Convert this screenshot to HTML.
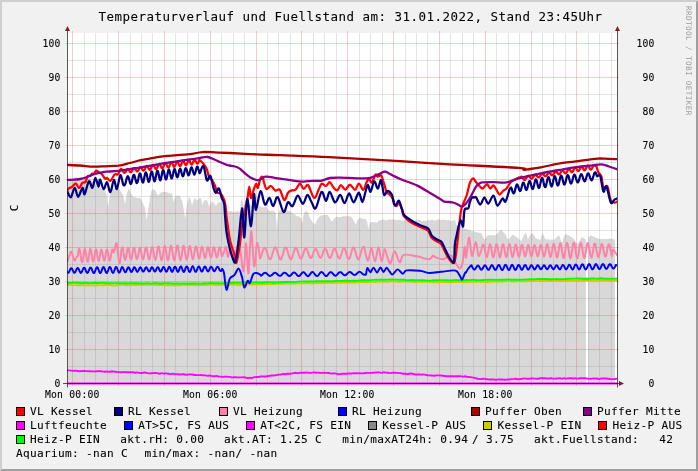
<!DOCTYPE html>
<html><head><meta charset="utf-8"><title>Temperaturverlauf und Fuellstand</title>
<style>html,body{margin:0;padding:0;background:#F1F1F1;overflow:hidden}body{width:698px;height:471px}</style></head>
<body>
<svg width="698" height="471" viewBox="0 0 698 471" style="display:block;will-change:transform;opacity:0.999">
<rect x="0" y="0" width="698" height="471" fill="#F1F1F1"/>
<path d="M0,0 H698 L696,2 H2 V469 L0,471 Z" fill="#CFCFCF"/>
<path d="M698,0 V471 H0 L2,469 H696 V2 Z" fill="#9E9E9E"/>
<rect x="67" y="33" width="550" height="350" fill="#FFFFFF"/>
<g clip-path="url(#cp)">
<path d="M68.0,383.0 L68.0,179.0 L72.0,178.5 L76.0,177.0 L78.0,179.0 L84.0,178.5 L90.0,179.0 L93.0,182.0 L97.0,186.0 L99.0,187.5 L101.0,188.5 L104.5,189.0 L106.8,196.0 L108.2,207.6 L109.6,196.0 L111.5,188.0 L113.7,188.8 L115.8,188.0 L118.0,187.5 L121.0,191.5 L123.5,196.0 L125.1,204.6 L126.6,194.0 L128.8,188.2 L131.0,193.0 L133.0,197.3 L135.3,197.2 L137.7,198.1 L140.0,197.7 L142.0,201.0 L145.0,208.0 L146.7,220.2 L148.6,207.0 L151.0,192.0 L152.6,189.0 L155.0,190.0 L158.0,195.5 L161.0,192.5 L163.0,192.0 L165.2,192.0 L167.5,192.2 L169.8,193.5 L172.0,193.2 L173.4,202.3 L175.0,197.0 L177.0,195.6 L180.0,196.0 L182.5,202.3 L185.3,218.7 L187.0,204.0 L189.0,197.1 L190.5,199.0 L192.0,205.3 L194.0,199.5 L195.0,197.9 L197.0,200.6 L199.0,198.4 L201.0,197.9 L202.5,205.3 L204.0,200.5 L207.0,200.1 L209.2,206.8 L211.0,202.5 L212.9,201.6 L215.9,206.1 L218.0,202.5 L220.2,201.9 L222.5,202.3 L224.0,206.0 L225.5,211.3 L227.5,210.9 L229.5,211.2 L231.5,211.5 L233.5,212.1 L235.5,211.8 L237.5,211.3 L239.7,212.0 L240.6,204.0 L241.6,197.9 L243.4,205.3 L246.0,203.0 L248.0,204.3 L250.0,204.5 L252.0,207.4 L254.0,206.3 L256.0,206.0 L258.0,206.2 L260.0,206.3 L262.0,207.2 L264.0,207.5 L266.0,206.8 L268.0,209.5 L270.0,211.2 L272.0,210.3 L274.0,211.5 L275.8,213.0 L276.9,229.2 L278.0,213.0 L280.0,210.0 L282.0,211.1 L284.0,211.4 L286.0,210.1 L288.0,211.4 L290.0,210.8 L293.0,214.0 L295.0,214.3 L297.0,216.4 L299.0,216.0 L301.0,218.5 L302.2,223.2 L303.5,215.0 L305.0,211.5 L307.5,211.3 L309.5,217.0 L311.1,220.2 L313.0,222.5 L314.9,224.7 L317.0,220.0 L320.0,215.8 L322.5,215.2 L325.0,214.9 L327.5,215.0 L330.0,218.5 L332.0,221.7 L334.0,218.5 L336.5,216.5 L338.6,217.3 L340.6,216.9 L342.7,216.3 L344.8,216.2 L346.9,216.2 L348.9,216.3 L351.0,216.5 L353.5,220.0 L355.8,224.7 L357.5,220.0 L360.0,217.5 L362.7,219.2 L365.4,218.7 L367.3,222.0 L368.4,229.2 L369.6,223.0 L371.4,222.0 L374.4,222.2 L377.3,222.5 L379.0,220.5 L381.8,219.7 L383.8,219.5 L385.8,220.5 L387.9,219.8 L389.9,219.5 L391.9,219.6 L393.9,219.2 L396.0,220.0 L398.0,220.0 L400.0,219.5 L402.0,221.0 L404.0,220.0 L406.0,219.4 L408.0,220.6 L410.0,219.6 L412.0,220.9 L414.0,220.8 L416.0,220.3 L418.0,219.5 L420.0,219.9 L422.0,220.9 L424.0,220.5 L426.0,220.7 L428.0,219.8 L430.0,220.5 L432.0,219.6 L434.0,220.6 L436.0,220.2 L438.0,219.2 L440.0,219.7 L442.1,220.0 L444.3,219.6 L446.4,220.3 L448.6,220.1 L450.7,221.1 L452.9,220.7 L455.0,220.2 L456.5,224.8 L459.0,226.0 L462.3,227.8 L466.0,229.0 L469.8,230.0 L474.0,231.5 L478.0,232.5 L481.5,233.3 L483.0,237.0 L484.7,239.7 L486.5,236.5 L488.0,235.2 L495.0,235.3 L498.0,233.0 L501.1,229.3 L503.5,232.5 L505.5,234.5 L507.0,238.0 L508.5,239.7 L510.5,237.0 L513.0,234.5 L515.0,236.0 L517.5,237.5 L519.5,239.5 L521.2,241.2 L523.5,236.0 L525.7,232.2 L527.0,236.0 L528.0,239.7 L529.5,236.0 L530.9,233.7 L533.0,233.5 L535.5,238.0 L538.0,239.2 L540.4,239.7 L541.6,235.5 L542.7,232.2 L544.0,236.5 L545.5,239.2 L549.4,239.5 L553.8,239.7 L556.5,237.5 L559.0,235.2 L560.5,239.0 L562.0,242.7 L563.5,238.0 L565.0,234.0 L567.5,235.0 L569.5,236.0 L573.2,238.2 L575.5,241.5 L577.7,244.2 L580.0,240.0 L582.1,236.7 L584.0,238.5 L585.9,239.7 L585.9,383.0 Z" fill="#D8D8D8"/>
<path d="M588.1,383.0 L588.1,238.5 L589.5,236.5 L591.1,235.2 L593.0,236.5 L595.6,237.5 L597.5,238.5 L600.0,238.9 L606.0,239.0 L610.0,238.6 L613.4,239.2 L615.0,239.5 L615.0,383.0 Z" fill="#D8D8D8"/>
</g>
<defs><clipPath id="cp"><rect x="67" y="33" width="550" height="350"/></clipPath></defs>
<path d="M84.5,33 V383 M95.5,33 V383 M107.5,33 V383 M130.5,33 V383 M141.5,33 V383 M152.5,33 V383 M175.5,33 V383 M187.5,33 V383 M198.5,33 V383 M221.5,33 V383 M233.5,33 V383 M244.5,33 V383 M267.5,33 V383 M278.5,33 V383 M290.5,33 V383 M313.5,33 V383 M324.5,33 V383 M336.5,33 V383 M359.5,33 V383 M370.5,33 V383 M382.5,33 V383 M405.5,33 V383 M416.5,33 V383 M427.5,33 V383 M450.5,33 V383 M462.5,33 V383 M473.5,33 V383 M496.5,33 V383 M508.5,33 V383 M519.5,33 V383 M542.5,33 V383 M553.5,33 V383 M565.5,33 V383 M588.5,33 V383 M599.5,33 V383 M611.5,33 V383 M67,366.5 H617 M67,332.5 H617 M67,298.5 H617 M67,264.5 H617 M67,230.5 H617 M67,196.5 H617 M67,162.5 H617 M67,128.5 H617 M67,94.5 H617 M67,60.5 H617" stroke="#8F8F8F" stroke-opacity="0.24" stroke-width="1" fill="none"/>
<path d="M72.5,31 V386 M118.5,31 V386 M164.5,31 V386 M210.5,31 V386 M256.5,31 V386 M301.5,31 V386 M347.5,31 V386 M393.5,31 V386 M439.5,31 V386 M485.5,31 V386 M531.5,31 V386 M576.5,31 V386 M65,383.5 H619 M65,349.5 H619 M65,315.5 H619 M65,281.5 H619 M65,247.5 H619 M65,213.5 H619 M65,179.5 H619 M65,145.5 H619 M65,111.5 H619 M65,77.5 H619 M65,43.5 H619" stroke="#DE4F4F" stroke-opacity="0.29" stroke-width="1" fill="none"/>
<g clip-path="url(#cp)" fill="none" stroke-linejoin="round" stroke-linecap="round">
<path d="M67.0,284.8 C67.7,284.8 69.7,285.0 71.0,285.1 C72.3,285.1 73.7,285.1 75.0,285.1 C76.3,285.1 77.7,285.2 79.0,285.3 C80.3,285.3 81.7,285.2 83.0,285.2 C84.3,285.2 85.7,285.3 87.0,285.3 C88.3,285.3 89.7,285.1 91.0,285.2 C92.3,285.2 93.7,285.5 95.0,285.5 C96.3,285.5 97.7,285.2 99.0,285.1 C100.3,285.1 101.7,285.2 103.0,285.2 C104.3,285.1 105.7,284.9 107.0,284.9 C108.3,284.9 109.7,285.1 111.0,285.2 C112.3,285.3 113.7,285.5 115.0,285.5 C116.3,285.4 117.7,285.1 119.0,285.0 C120.3,284.9 121.7,284.7 123.0,284.7 C124.3,284.8 125.7,285.2 127.0,285.3 C128.3,285.3 129.7,285.1 131.0,285.1 C132.3,285.0 133.7,284.9 135.0,284.9 C136.3,284.9 137.7,284.9 139.0,284.9 C140.3,284.9 141.7,285.0 143.0,284.9 C144.3,284.9 145.7,284.7 147.0,284.7 C148.3,284.6 149.7,284.6 151.0,284.6 C152.3,284.7 153.7,285.0 155.0,285.1 C156.3,285.2 157.7,285.0 159.0,285.0 C160.3,285.0 161.7,285.0 163.0,285.0 C164.3,285.1 165.7,285.2 167.0,285.2 C168.3,285.3 169.7,285.2 171.0,285.2 C172.3,285.2 173.7,285.2 175.0,285.2 C176.3,285.3 177.7,285.4 179.0,285.3 C180.3,285.3 181.7,284.9 183.0,284.9 C184.3,284.8 185.7,285.0 187.0,285.0 C188.3,285.0 189.7,284.9 191.0,284.9 C192.3,284.9 193.7,284.9 195.0,284.9 C196.3,284.9 197.7,284.9 199.0,284.9 C200.3,285.0 201.7,285.0 203.0,285.0 C204.3,285.0 205.7,285.0 207.0,285.0 C208.3,284.9 209.7,284.6 211.0,284.6 C212.3,284.6 213.7,285.0 215.0,285.1 C216.3,285.1 217.7,285.0 219.0,284.9 C220.3,284.8 221.7,284.6 223.0,284.6 C224.3,284.6 225.7,284.9 227.0,284.9 C228.3,284.9 229.7,284.9 231.0,284.8 C232.3,284.8 233.7,284.6 235.0,284.6 C236.3,284.6 237.7,284.9 239.0,284.9 C240.3,284.9 241.7,284.5 243.0,284.5 C244.3,284.4 245.7,284.5 247.0,284.5 C248.3,284.5 249.7,284.5 251.0,284.5 C252.3,284.5 253.7,284.4 255.0,284.3 C256.3,284.3 257.7,284.2 259.0,284.2 C260.3,284.2 261.7,284.2 263.0,284.2 C264.3,284.2 265.7,284.0 267.0,284.0 C268.3,284.0 269.7,284.3 271.0,284.3 C272.3,284.2 273.7,283.9 275.0,283.8 C276.3,283.7 277.7,283.8 279.0,283.8 C280.3,283.8 281.7,283.8 283.0,283.7 C284.3,283.7 285.7,283.7 287.0,283.6 C288.3,283.5 289.7,283.4 291.0,283.4 C292.3,283.4 293.7,283.7 295.0,283.7 C296.3,283.7 297.7,283.4 299.0,283.4 C300.3,283.3 301.7,283.5 303.0,283.4 C304.3,283.3 305.7,282.9 307.0,282.9 C308.3,282.9 309.7,283.3 311.0,283.4 C312.3,283.4 313.7,283.2 315.0,283.1 C316.3,283.1 317.7,283.0 319.0,283.0 C320.3,283.0 321.7,283.0 323.0,283.0 C324.3,283.0 325.7,282.8 327.0,282.8 C328.3,282.7 329.7,282.7 331.0,282.7 C332.3,282.7 333.7,282.8 335.0,282.8 C336.3,282.8 337.7,282.7 339.0,282.7 C340.3,282.6 341.7,282.5 343.0,282.5 C344.3,282.4 345.7,282.4 347.0,282.4 C348.3,282.4 349.7,282.5 351.0,282.5 C352.3,282.5 353.7,282.5 355.0,282.4 C356.3,282.4 357.7,282.3 359.0,282.3 C360.3,282.2 361.7,281.9 363.0,281.9 C364.3,281.9 365.7,282.2 367.0,282.2 C368.3,282.1 369.7,281.8 371.0,281.8 C372.3,281.8 373.7,282.0 375.0,281.9 C376.3,281.9 377.7,281.6 379.0,281.6 C380.3,281.6 381.7,281.7 383.0,281.7 C384.3,281.8 385.7,281.8 387.0,281.7 C388.3,281.7 389.7,281.4 391.0,281.3 C392.3,281.2 393.7,281.3 395.0,281.4 C396.3,281.5 397.7,281.8 399.0,281.8 C400.3,281.8 401.7,281.7 403.0,281.6 C404.3,281.6 405.7,281.5 407.0,281.5 C408.3,281.5 409.7,281.5 411.0,281.5 C412.3,281.6 413.7,281.9 415.0,281.9 C416.3,281.9 417.7,281.7 419.0,281.7 C420.3,281.7 421.7,281.8 423.0,281.8 C424.3,281.8 425.7,281.7 427.0,281.8 C428.3,281.8 429.7,282.0 431.0,282.0 C432.3,282.1 433.7,282.2 435.0,282.2 C436.3,282.3 437.7,282.3 439.0,282.2 C440.3,282.2 441.7,282.0 443.0,282.0 C444.3,281.9 445.7,282.1 447.0,282.2 C448.3,282.2 449.7,282.2 451.0,282.2 C452.3,282.1 453.7,281.9 455.0,281.9 C456.3,281.9 457.7,282.0 459.0,282.1 C460.3,282.1 461.7,282.1 463.0,282.0 C464.3,282.0 465.7,281.9 467.0,281.9 C468.3,281.8 469.7,281.9 471.0,281.9 C472.3,281.8 473.7,281.8 475.0,281.8 C476.3,281.7 477.7,281.7 479.0,281.7 C480.3,281.7 481.7,281.7 483.0,281.7 C484.3,281.7 485.7,281.9 487.0,281.9 C488.3,281.9 489.7,281.6 491.0,281.5 C492.3,281.5 493.7,281.5 495.0,281.5 C496.3,281.5 497.7,281.6 499.0,281.5 C500.3,281.5 501.7,281.5 503.0,281.4 C504.3,281.4 505.7,281.1 507.0,281.1 C508.3,281.0 509.7,281.2 511.0,281.2 C512.3,281.3 513.7,281.4 515.0,281.4 C516.3,281.4 517.7,281.1 519.0,281.1 C520.3,281.1 521.7,281.3 523.0,281.3 C524.3,281.3 525.7,281.3 527.0,281.2 C528.3,281.1 529.7,280.9 531.0,280.8 C532.3,280.8 533.7,281.0 535.0,281.1 C536.3,281.1 537.7,281.1 539.0,281.1 C540.3,281.0 541.7,281.1 543.0,281.0 C544.3,280.9 545.7,280.5 547.0,280.5 C548.3,280.5 549.7,280.8 551.0,280.8 C552.3,280.8 553.7,280.7 555.0,280.7 C556.3,280.7 557.7,280.9 559.0,280.8 C560.3,280.7 561.7,280.3 563.0,280.2 C564.3,280.2 565.7,280.5 567.0,280.5 C568.3,280.6 569.7,280.3 571.0,280.3 C572.3,280.3 573.7,280.6 575.0,280.6 C576.3,280.6 577.7,280.4 579.0,280.3 C580.3,280.2 581.7,280.2 583.0,280.2 C584.3,280.2 585.7,280.2 587.0,280.2 C588.3,280.2 589.7,280.2 591.0,280.2 C592.3,280.3 593.7,280.5 595.0,280.5 C596.3,280.5 597.7,280.3 599.0,280.2 C600.3,280.1 601.7,280.0 603.0,280.1 C604.3,280.1 605.7,280.4 607.0,280.5 C608.3,280.5 609.7,280.4 611.0,280.4 C612.3,280.3 614.0,280.2 615.0,280.2 C616.0,280.2 616.7,280.4 617.0,280.4" stroke="#CCCC00" stroke-width="1.95"/>
<path d="M67.0,283.2 C67.5,283.1 69.0,283.0 70.0,282.9 C71.0,282.8 72.0,282.9 73.0,282.8 C74.0,282.8 75.0,282.8 76.0,282.8 C77.0,282.9 78.0,282.9 79.0,282.9 C80.0,283.0 81.0,283.2 82.0,283.2 C83.0,283.2 84.0,282.9 85.0,282.9 C86.0,282.9 87.0,283.1 88.0,283.1 C89.0,283.1 90.0,283.2 91.0,283.1 C92.0,283.1 93.0,283.0 94.0,283.0 C95.0,283.0 96.0,283.1 97.0,283.1 C98.0,283.1 99.0,282.9 100.0,282.9 C101.0,282.8 102.0,282.9 103.0,282.9 C104.0,282.9 105.0,282.9 106.0,283.0 C107.0,283.0 108.0,283.2 109.0,283.2 C110.0,283.3 111.0,283.1 112.0,283.1 C113.0,283.1 114.0,283.1 115.0,283.1 C116.0,283.1 117.0,283.2 118.0,283.2 C119.0,283.2 120.0,283.2 121.0,283.2 C122.0,283.2 123.0,283.1 124.0,283.1 C125.0,283.1 126.0,283.3 127.0,283.4 C128.0,283.4 129.0,283.4 130.0,283.3 C131.0,283.3 132.0,283.1 133.0,283.1 C134.0,283.1 135.0,283.3 136.0,283.3 C137.0,283.3 138.0,283.3 139.0,283.3 C140.0,283.3 141.0,283.5 142.0,283.5 C143.0,283.5 144.0,283.5 145.0,283.4 C146.0,283.4 147.0,283.2 148.0,283.2 C149.0,283.2 150.0,283.6 151.0,283.6 C152.0,283.6 153.0,283.2 154.0,283.1 C155.0,283.1 156.0,283.3 157.0,283.3 C158.0,283.4 159.0,283.5 160.0,283.5 C161.0,283.5 162.0,283.2 163.0,283.2 C164.0,283.2 165.0,283.4 166.0,283.4 C167.0,283.4 168.0,283.2 169.0,283.2 C170.0,283.2 171.0,283.4 172.0,283.5 C173.0,283.6 174.0,283.6 175.0,283.6 C176.0,283.6 177.0,283.5 178.0,283.5 C179.0,283.5 180.0,283.7 181.0,283.6 C182.0,283.6 183.0,283.4 184.0,283.4 C185.0,283.4 186.0,283.6 187.0,283.6 C188.0,283.6 189.0,283.6 190.0,283.5 C191.0,283.5 192.0,283.5 193.0,283.5 C194.0,283.5 195.0,283.4 196.0,283.4 C197.0,283.4 198.0,283.5 199.0,283.6 C200.0,283.6 201.0,283.6 202.0,283.6 C203.0,283.5 204.0,283.3 205.0,283.3 C206.0,283.3 207.0,283.4 208.0,283.4 C209.0,283.3 210.0,283.0 211.0,283.0 C212.0,283.0 213.0,283.3 214.0,283.3 C215.0,283.3 216.0,283.2 217.0,283.2 C218.0,283.2 219.0,283.4 220.0,283.4 C221.0,283.4 222.0,283.3 223.0,283.2 C224.0,283.2 225.0,283.0 226.0,282.9 C227.0,282.9 228.0,282.9 229.0,282.9 C230.0,283.0 231.0,283.1 232.0,283.0 C233.0,283.0 234.0,282.7 235.0,282.7 C236.0,282.7 237.0,282.9 238.0,282.9 C239.0,282.9 240.0,282.7 241.0,282.7 C242.0,282.6 243.0,282.6 244.0,282.6 C245.0,282.6 246.0,282.5 247.0,282.5 C248.0,282.6 249.0,282.9 250.0,282.9 C251.0,282.9 252.0,282.6 253.0,282.5 C254.0,282.4 255.0,282.5 256.0,282.5 C257.0,282.5 258.0,282.5 259.0,282.6 C260.0,282.6 261.0,282.8 262.0,282.7 C263.0,282.7 264.0,282.3 265.0,282.3 C266.0,282.2 267.0,282.4 268.0,282.4 C269.0,282.4 270.0,282.4 271.0,282.4 C272.0,282.4 273.0,282.5 274.0,282.5 C275.0,282.5 276.0,282.4 277.0,282.4 C278.0,282.4 279.0,282.4 280.0,282.4 C281.0,282.3 282.0,282.1 283.0,282.0 C284.0,281.9 285.0,282.0 286.0,282.0 C287.0,282.0 288.0,281.9 289.0,281.9 C290.0,281.9 291.0,282.1 292.0,282.1 C293.0,282.1 294.0,282.2 295.0,282.1 C296.0,282.0 297.0,281.7 298.0,281.6 C299.0,281.5 300.0,281.6 301.0,281.6 C302.0,281.5 303.0,281.5 304.0,281.5 C305.0,281.5 306.0,281.5 307.0,281.5 C308.0,281.5 309.0,281.5 310.0,281.5 C311.0,281.5 312.0,281.5 313.0,281.5 C314.0,281.5 315.0,281.4 316.0,281.3 C317.0,281.2 318.0,281.1 319.0,281.1 C320.0,281.1 321.0,281.2 322.0,281.2 C323.0,281.2 324.0,281.2 325.0,281.1 C326.0,281.1 327.0,281.1 328.0,281.2 C329.0,281.2 330.0,281.3 331.0,281.3 C332.0,281.3 333.0,281.2 334.0,281.1 C335.0,281.0 336.0,281.0 337.0,280.9 C338.0,280.9 339.0,280.9 340.0,280.9 C341.0,280.9 342.0,281.0 343.0,280.9 C344.0,280.8 345.0,280.5 346.0,280.5 C347.0,280.5 348.0,280.8 349.0,280.9 C350.0,280.9 351.0,280.8 352.0,280.7 C353.0,280.7 354.0,280.7 355.0,280.7 C356.0,280.7 357.0,280.7 358.0,280.6 C359.0,280.6 360.0,280.4 361.0,280.3 C362.0,280.3 363.0,280.3 364.0,280.3 C365.0,280.2 366.0,280.1 367.0,280.1 C368.0,280.1 369.0,280.3 370.0,280.3 C371.0,280.2 372.0,280.0 373.0,279.9 C374.0,279.8 375.0,279.9 376.0,279.8 C377.0,279.8 378.0,279.9 379.0,279.8 C380.0,279.8 381.0,279.8 382.0,279.8 C383.0,279.7 384.0,279.8 385.0,279.8 C386.0,279.7 387.0,279.6 388.0,279.6 C389.0,279.5 390.0,279.5 391.0,279.5 C392.0,279.5 393.0,279.6 394.0,279.6 C395.0,279.6 396.0,279.6 397.0,279.6 C398.0,279.7 399.0,279.8 400.0,279.8 C401.0,279.9 402.0,279.7 403.0,279.7 C404.0,279.8 405.0,280.2 406.0,280.2 C407.0,280.3 408.0,280.2 409.0,280.2 C410.0,280.1 411.0,280.0 412.0,280.0 C413.0,280.0 414.0,280.1 415.0,280.2 C416.0,280.2 417.0,280.2 418.0,280.3 C419.0,280.3 420.0,280.3 421.0,280.3 C422.0,280.3 423.0,280.2 424.0,280.2 C425.0,280.2 426.0,280.5 427.0,280.6 C428.0,280.6 429.0,280.6 430.0,280.6 C431.0,280.6 432.0,280.4 433.0,280.3 C434.0,280.3 435.0,280.4 436.0,280.3 C437.0,280.3 438.0,280.2 439.0,280.1 C440.0,280.1 441.0,280.1 442.0,280.1 C443.0,280.1 444.0,280.2 445.0,280.2 C446.0,280.2 447.0,280.2 448.0,280.2 C449.0,280.2 450.0,280.5 451.0,280.5 C452.0,280.4 453.0,280.2 454.0,280.1 C455.0,280.0 456.0,279.9 457.0,280.0 C458.0,280.0 459.0,280.4 460.0,280.4 C461.0,280.5 462.0,280.3 463.0,280.2 C464.0,280.1 465.0,280.0 466.0,280.0 C467.0,279.9 468.0,280.1 469.0,280.1 C470.0,280.1 471.0,279.8 472.0,279.8 C473.0,279.8 474.0,280.0 475.0,280.0 C476.0,280.1 477.0,280.2 478.0,280.2 C479.0,280.2 480.0,280.2 481.0,280.1 C482.0,280.1 483.0,280.1 484.0,280.0 C485.0,280.0 486.0,279.8 487.0,279.8 C488.0,279.7 489.0,279.8 490.0,279.8 C491.0,279.8 492.0,279.6 493.0,279.6 C494.0,279.7 495.0,279.9 496.0,279.9 C497.0,279.9 498.0,279.8 499.0,279.8 C500.0,279.8 501.0,279.9 502.0,279.8 C503.0,279.8 504.0,279.6 505.0,279.6 C506.0,279.5 507.0,279.5 508.0,279.5 C509.0,279.5 510.0,279.7 511.0,279.8 C512.0,279.8 513.0,279.8 514.0,279.8 C515.0,279.8 516.0,279.7 517.0,279.7 C518.0,279.7 519.0,279.7 520.0,279.7 C521.0,279.6 522.0,279.6 523.0,279.6 C524.0,279.6 525.0,279.6 526.0,279.5 C527.0,279.5 528.0,279.3 529.0,279.2 C530.0,279.2 531.0,279.3 532.0,279.3 C533.0,279.3 534.0,279.3 535.0,279.2 C536.0,279.2 537.0,279.0 538.0,279.0 C539.0,279.0 540.0,279.0 541.0,279.0 C542.0,279.0 543.0,279.0 544.0,279.0 C545.0,279.1 546.0,279.0 547.0,279.0 C548.0,279.0 549.0,279.1 550.0,279.2 C551.0,279.2 552.0,279.3 553.0,279.3 C554.0,279.2 555.0,279.0 556.0,279.0 C557.0,278.9 558.0,279.1 559.0,279.2 C560.0,279.2 561.0,279.2 562.0,279.1 C563.0,279.1 564.0,279.2 565.0,279.1 C566.0,279.0 567.0,278.8 568.0,278.7 C569.0,278.7 570.0,278.7 571.0,278.6 C572.0,278.6 573.0,278.6 574.0,278.6 C575.0,278.6 576.0,278.6 577.0,278.5 C578.0,278.5 579.0,278.5 580.0,278.5 C581.0,278.5 582.0,278.6 583.0,278.7 C584.0,278.7 585.0,278.8 586.0,278.8 C587.0,278.8 588.0,278.7 589.0,278.7 C590.0,278.6 591.0,278.5 592.0,278.5 C593.0,278.5 594.0,278.6 595.0,278.6 C596.0,278.6 597.0,278.7 598.0,278.7 C599.0,278.6 600.0,278.3 601.0,278.3 C602.0,278.3 603.0,278.6 604.0,278.6 C605.0,278.7 606.0,278.8 607.0,278.8 C608.0,278.8 609.0,278.7 610.0,278.7 C611.0,278.7 612.0,278.7 613.0,278.7 C614.0,278.7 615.3,278.6 616.0,278.6 C616.7,278.6 616.8,278.6 617.0,278.6" stroke="#00FF00" stroke-width="1.9"/>
<path d="M67.5,261.3 C67.8,260.4 68.6,257.6 69.2,256.0 C69.8,254.4 70.6,251.5 71.2,251.5 C71.8,251.5 72.4,254.5 73.0,256.0 C73.6,257.5 74.1,260.3 74.6,260.6 C75.1,260.9 75.7,258.8 76.2,258.0 C76.7,257.2 77.4,256.8 77.8,255.6 C78.2,254.3 78.3,251.7 78.5,250.5 C78.7,249.3 79.0,248.4 79.2,248.4 C79.4,248.4 79.7,249.3 79.9,250.4 C80.1,251.6 80.4,253.7 80.6,255.4 C80.9,257.1 81.1,259.2 81.3,260.4 C81.6,261.6 81.8,262.5 82.0,262.5 C82.3,262.5 82.5,261.6 82.7,260.5 C83.0,259.4 83.2,257.2 83.4,255.6 C83.7,254.0 83.9,251.9 84.1,250.7 C84.4,249.6 84.6,248.7 84.8,248.7 C85.1,248.7 85.3,249.6 85.5,250.7 C85.8,251.8 86.0,253.9 86.2,255.5 C86.5,257.0 86.7,259.1 87.0,260.1 C87.2,261.2 87.4,262.0 87.7,262.0 C87.9,261.9 88.1,261.0 88.4,259.9 C88.6,258.8 88.8,256.7 89.1,255.2 C89.3,253.6 89.5,251.7 89.8,250.7 C90.0,249.6 90.2,248.9 90.5,249.0 C90.7,249.1 90.9,250.1 91.2,251.2 C91.4,252.4 91.6,254.4 91.9,255.9 C92.1,257.4 92.3,259.2 92.6,260.1 C92.8,261.1 93.1,261.6 93.3,261.4 C93.5,261.3 93.8,260.2 94.0,259.1 C94.2,257.9 94.5,255.9 94.7,254.4 C94.9,253.0 95.2,251.3 95.4,250.4 C95.6,249.6 95.9,249.1 96.1,249.4 C96.3,249.7 96.6,250.8 96.8,252.0 C97.0,253.1 97.3,255.1 97.5,256.5 C97.7,257.9 98.0,259.5 98.2,260.2 C98.5,260.9 98.7,261.2 98.9,260.9 C99.2,260.5 99.4,259.3 99.6,258.1 C99.9,256.9 100.1,254.9 100.3,253.6 C100.6,252.3 100.8,250.8 101.0,250.1 C101.3,249.5 101.5,249.3 101.7,249.8 C102.0,250.2 102.2,251.5 102.4,252.7 C102.7,254.0 102.9,255.9 103.1,257.2 C103.4,258.4 103.6,259.8 103.8,260.3 C104.1,260.9 104.3,260.9 104.6,260.3 C104.8,259.8 105.0,258.4 105.3,257.2 C105.5,255.9 105.7,254.0 106.0,252.8 C106.2,251.5 106.4,250.2 106.7,249.8 C106.9,249.4 107.1,249.5 107.4,250.1 C107.6,250.7 107.8,252.2 108.1,253.4 C108.3,254.7 108.5,256.6 108.8,257.8 C109.0,259.0 109.2,260.1 109.5,260.5 C109.7,260.8 109.9,260.6 110.2,259.9 C110.4,259.2 110.7,257.6 110.9,256.3 C111.1,255.0 111.4,253.1 111.6,252.0 C111.8,250.8 112.1,249.7 112.3,249.4 C112.5,249.2 112.7,249.9 113.0,250.3 C113.3,250.7 113.4,253.2 114.0,252.0 C114.6,250.8 115.8,242.9 116.5,243.2 C117.2,243.5 117.5,250.7 118.0,254.0 C118.5,257.4 119.0,263.1 119.5,263.3 C120.0,263.5 120.8,256.8 121.0,255.0 C121.2,253.2 120.9,253.6 121.0,252.5 C121.1,251.4 121.5,249.3 121.7,248.5 C121.9,247.6 122.2,247.2 122.4,247.4 C122.6,247.7 122.9,248.7 123.1,249.9 C123.3,251.1 123.6,253.0 123.8,254.5 C124.0,255.9 124.3,257.6 124.5,258.5 C124.7,259.5 125.0,260.0 125.2,260.0 C125.4,259.9 125.7,259.0 125.9,258.0 C126.1,256.9 126.4,255.1 126.6,253.7 C126.8,252.3 127.1,250.5 127.3,249.5 C127.5,248.5 127.8,247.7 128.0,247.6 C128.2,247.6 128.5,248.2 128.7,249.0 C128.9,249.9 129.2,251.5 129.4,252.9 C129.7,254.2 129.9,256.0 130.1,257.1 C130.4,258.2 130.6,259.2 130.8,259.5 C131.1,259.7 131.3,259.4 131.5,258.7 C131.8,258.0 132.0,256.6 132.2,255.3 C132.5,254.0 132.7,252.2 132.9,251.0 C133.2,249.8 133.4,248.6 133.6,248.2 C133.9,247.7 134.1,247.7 134.3,248.2 C134.6,248.6 134.8,249.8 135.0,251.0 C135.3,252.2 135.5,253.9 135.7,255.2 C136.0,256.4 136.2,257.8 136.4,258.5 C136.7,259.2 136.9,259.5 137.1,259.3 C137.4,259.0 137.6,258.1 137.8,257.1 C138.1,256.1 138.3,254.4 138.5,253.1 C138.8,251.8 139.0,250.2 139.2,249.3 C139.5,248.4 139.7,247.7 139.9,247.7 C140.2,247.6 140.4,248.2 140.6,249.0 C140.9,249.8 141.1,251.3 141.3,252.6 C141.6,253.9 141.8,255.6 142.0,256.7 C142.3,257.8 142.5,258.8 142.7,259.2 C143.0,259.5 143.2,259.4 143.4,258.8 C143.7,258.2 143.9,256.9 144.1,255.7 C144.4,254.5 144.6,252.7 144.8,251.5 C145.1,250.2 145.3,248.9 145.5,248.2 C145.8,247.5 146.0,247.2 146.2,247.5 C146.5,247.7 146.7,248.6 147.0,249.7 C147.2,250.8 147.4,252.4 147.7,253.8 C147.9,255.1 148.1,256.8 148.4,257.7 C148.6,258.7 148.8,259.4 149.1,259.6 C149.3,259.7 149.5,259.2 149.8,258.4 C150.0,257.6 150.2,256.1 150.5,254.7 C150.7,253.4 150.9,251.6 151.2,250.3 C151.4,249.1 151.6,247.9 151.9,247.4 C152.1,246.9 152.3,246.8 152.6,247.3 C152.8,247.7 153.0,248.9 153.3,250.1 C153.5,251.3 153.7,253.1 154.0,254.5 C154.2,255.9 154.4,257.5 154.7,258.4 C154.9,259.3 155.1,259.9 155.4,259.9 C155.6,259.8 155.8,259.1 156.1,258.2 C156.3,257.2 156.5,255.5 156.8,254.1 C157.0,252.6 157.2,250.8 157.5,249.5 C157.7,248.3 157.9,247.1 158.2,246.7 C158.4,246.3 158.6,246.4 158.9,247.0 C159.1,247.6 159.3,248.9 159.6,250.2 C159.8,251.6 160.0,253.5 160.3,254.9 C160.5,256.4 160.7,258.0 161.0,258.9 C161.2,259.7 161.4,260.3 161.7,260.2 C161.9,260.0 162.1,259.2 162.4,258.1 C162.6,257.1 162.8,255.2 163.1,253.7 C163.3,252.2 163.6,250.3 163.8,249.0 C164.0,247.8 164.3,246.6 164.5,246.2 C164.7,245.8 165.0,246.0 165.2,246.6 C165.4,247.3 165.7,248.7 165.9,250.1 C166.1,251.5 166.4,253.6 166.6,255.1 C166.8,256.6 167.1,258.2 167.3,259.1 C167.5,260.0 167.8,260.5 168.0,260.3 C168.2,260.2 168.5,259.3 168.7,258.2 C168.9,257.0 169.2,255.1 169.4,253.6 C169.6,252.0 169.9,250.0 170.1,248.7 C170.3,247.4 170.6,246.2 170.8,245.9 C171.0,245.5 171.3,245.7 171.5,246.4 C171.7,247.1 172.0,248.6 172.2,250.0 C172.4,251.5 172.7,253.5 172.9,255.1 C173.1,256.6 173.4,258.3 173.6,259.1 C173.8,260.0 174.1,260.5 174.3,260.3 C174.5,260.2 174.8,259.2 175.0,258.1 C175.2,256.9 175.5,255.0 175.7,253.4 C175.9,251.8 176.2,249.8 176.4,248.5 C176.6,247.2 176.9,246.1 177.1,245.7 C177.3,245.4 177.6,245.6 177.8,246.3 C178.0,247.0 178.3,248.6 178.5,250.0 C178.7,251.5 179.0,253.6 179.2,255.1 C179.4,256.6 179.7,258.2 179.9,259.1 C180.2,259.9 180.4,260.3 180.6,260.1 C180.9,259.9 181.1,258.9 181.3,257.7 C181.6,256.6 181.8,254.6 182.0,253.1 C182.3,251.5 182.5,249.5 182.7,248.3 C183.0,247.1 183.2,246.1 183.4,245.8 C183.7,245.5 183.9,245.8 184.1,246.6 C184.4,247.3 184.6,248.9 184.8,250.4 C185.1,251.8 185.3,253.8 185.5,255.3 C185.8,256.7 186.0,258.2 186.2,258.9 C186.5,259.7 186.7,259.9 186.9,259.6 C187.2,259.3 187.4,258.2 187.6,257.0 C187.9,255.8 188.1,253.9 188.3,252.4 C188.6,250.9 188.8,249.1 189.0,248.0 C189.3,246.9 189.5,246.1 189.7,246.0 C190.0,245.8 190.2,246.3 190.4,247.2 C190.7,248.1 190.9,249.7 191.1,251.1 C191.4,252.5 191.6,254.4 191.8,255.7 C192.1,257.0 192.3,258.3 192.5,258.8 C192.8,259.3 193.0,259.3 193.2,258.8 C193.5,258.3 193.7,257.1 193.9,255.9 C194.2,254.6 194.4,252.7 194.6,251.4 C194.9,250.0 195.1,248.4 195.3,247.6 C195.6,246.7 195.8,246.2 196.0,246.3 C196.3,246.4 196.5,247.2 196.8,248.2 C197.0,249.2 197.2,250.9 197.5,252.3 C197.7,253.6 197.9,255.4 198.2,256.4 C198.4,257.5 198.6,258.4 198.9,258.6 C199.1,258.8 199.3,258.4 199.6,257.7 C199.8,257.0 200.0,255.5 200.3,254.2 C200.5,253.0 200.7,251.2 201.0,250.0 C201.2,248.8 201.4,247.6 201.7,247.1 C201.9,246.6 202.1,246.6 202.4,247.0 C202.6,247.5 202.8,248.6 203.1,249.7 C203.3,250.9 203.5,252.6 203.8,253.8 C204.0,255.1 204.2,256.5 204.5,257.2 C204.7,257.9 204.9,258.2 205.2,258.0 C205.4,257.8 205.6,257.0 205.9,256.0 C206.1,255.0 206.3,253.4 206.6,252.2 C206.8,250.9 207.0,249.4 207.3,248.6 C207.5,247.7 207.7,247.0 208.0,247.0 C208.2,247.0 208.4,247.5 208.7,248.3 C208.9,249.1 209.1,250.6 209.4,251.8 C209.6,253.0 209.8,254.6 210.1,255.5 C210.3,256.5 210.5,257.4 210.8,257.6 C211.0,257.8 211.2,257.5 211.5,256.9 C211.7,256.2 211.9,254.9 212.2,253.7 C212.4,252.6 212.6,250.9 212.9,249.9 C213.1,248.8 213.3,247.8 213.6,247.4 C213.8,247.0 214.1,247.1 214.3,247.6 C214.5,248.1 214.8,249.3 215.0,250.4 C215.2,251.5 215.5,253.1 215.7,254.2 C215.9,255.3 216.2,256.5 216.4,256.9 C216.6,257.4 216.9,257.5 217.1,257.2 C217.3,256.8 217.6,255.7 217.8,254.7 C218.0,253.6 218.3,252.0 218.5,250.9 C218.7,249.7 219.0,248.4 219.2,247.8 C219.4,247.2 219.7,247.0 219.9,247.2 C220.1,247.5 220.4,248.5 220.6,249.4 C220.8,250.4 221.1,252.1 221.3,253.2 C221.5,254.4 221.5,256.7 222.0,256.4 C222.5,256.2 223.3,253.6 224.0,252.0 C224.7,250.4 225.3,246.2 226.0,247.0 C226.7,247.8 227.2,257.0 228.0,257.0 C228.8,257.0 229.7,246.8 230.5,247.0 C231.3,247.2 232.1,257.8 233.0,258.5 C233.9,259.2 234.9,253.2 236.0,251.0 C237.1,248.8 238.2,241.8 239.4,245.2 C240.7,248.6 242.4,271.7 243.5,271.4 C244.6,271.1 245.3,242.9 246.1,243.2 C246.9,243.5 247.7,275.4 248.5,273.4 C249.3,271.4 250.2,232.2 251.1,231.0 C252.0,229.8 253.2,264.4 254.2,266.4 C255.2,268.4 256.1,245.0 257.0,243.2 C257.9,241.3 259.1,252.8 259.6,255.3 C260.1,257.8 259.8,258.1 260.0,258.4 C260.2,258.7 260.5,257.7 260.7,257.2 C260.9,256.7 261.2,256.0 261.4,255.4 C261.6,254.7 261.9,253.9 262.1,253.1 C262.3,252.4 262.6,251.6 262.8,250.9 C263.0,250.3 263.3,249.6 263.5,249.1 C263.7,248.6 264.0,248.2 264.2,248.0 C264.4,247.8 264.7,247.7 264.9,247.8 C265.1,247.9 265.4,248.2 265.6,248.6 C265.8,249.0 266.1,249.5 266.3,250.2 C266.5,250.8 266.8,251.6 267.0,252.3 C267.2,253.1 267.5,253.9 267.7,254.7 C267.9,255.5 268.2,256.3 268.4,256.9 C268.6,257.5 268.9,258.1 269.1,258.5 C269.3,258.9 269.6,259.2 269.8,259.3 C270.0,259.3 270.3,259.2 270.5,259.0 C270.7,258.8 271.0,258.3 271.2,257.8 C271.4,257.3 271.7,256.5 271.9,255.8 C272.1,255.1 272.4,254.2 272.6,253.4 C272.8,252.6 273.1,251.7 273.3,251.0 C273.5,250.2 273.8,249.5 274.0,248.9 C274.2,248.4 274.5,247.9 274.7,247.7 C274.9,247.4 275.2,247.3 275.4,247.4 C275.6,247.5 275.9,247.7 276.1,248.1 C276.3,248.5 276.6,249.1 276.8,249.8 C277.0,250.5 277.3,251.3 277.5,252.1 C277.8,252.9 278.0,253.8 278.2,254.7 C278.5,255.5 278.7,256.3 278.9,257.0 C279.2,257.7 279.4,258.3 279.6,258.7 C279.9,259.1 280.1,259.4 280.3,259.5 C280.6,259.5 280.8,259.4 281.0,259.2 C281.3,258.9 281.5,258.4 281.7,257.9 C282.0,257.3 282.2,256.6 282.4,255.8 C282.7,255.0 282.9,254.1 283.1,253.3 C283.4,252.5 283.6,251.6 283.8,250.8 C284.1,250.1 284.3,249.3 284.5,248.8 C284.8,248.3 285.0,247.8 285.2,247.6 C285.5,247.4 285.7,247.3 285.9,247.5 C286.2,247.6 286.4,247.9 286.6,248.4 C286.9,248.8 287.1,249.5 287.3,250.2 C287.6,250.9 287.8,251.7 288.0,252.5 C288.3,253.4 288.5,254.3 288.7,255.1 C289.0,255.8 289.2,256.6 289.4,257.2 C289.7,257.9 289.9,258.4 290.1,258.7 C290.4,259.1 290.6,259.2 290.8,259.2 C291.1,259.2 291.3,259.0 291.5,258.7 C291.8,258.3 292.0,257.7 292.2,257.1 C292.5,256.5 292.7,255.7 292.9,254.9 C293.2,254.2 293.4,253.3 293.6,252.5 C293.9,251.7 294.1,250.9 294.3,250.2 C294.6,249.6 294.8,249.0 295.0,248.6 C295.3,248.2 295.5,247.9 295.7,247.9 C296.0,247.8 296.2,247.9 296.4,248.2 C296.7,248.4 296.9,248.9 297.1,249.5 C297.4,250.0 297.6,250.7 297.8,251.5 C298.1,252.2 298.3,253.0 298.5,253.8 C298.8,254.5 299.0,255.4 299.2,256.0 C299.5,256.7 299.7,257.3 299.9,257.7 C300.2,258.1 300.4,258.5 300.6,258.6 C300.9,258.7 301.1,258.6 301.3,258.4 C301.6,258.2 301.8,257.8 302.0,257.3 C302.3,256.9 302.5,256.2 302.7,255.5 C303.0,254.8 303.2,254.0 303.4,253.3 C303.7,252.6 303.9,251.8 304.1,251.1 C304.4,250.5 304.6,249.9 304.8,249.4 C305.1,249.0 305.3,248.7 305.5,248.5 C305.8,248.4 306.0,248.4 306.2,248.6 C306.5,248.8 306.7,249.2 306.9,249.6 C307.2,250.1 307.4,250.7 307.6,251.3 C307.9,252.0 308.1,252.8 308.3,253.5 C308.6,254.2 308.8,254.9 309.0,255.5 C309.3,256.2 309.5,256.8 309.7,257.2 C310.0,257.6 310.2,257.9 310.4,258.0 C310.7,258.2 310.9,258.1 311.1,258.0 C311.4,257.8 311.6,257.4 311.9,257.0 C312.1,256.5 312.3,255.9 312.6,255.3 C312.8,254.6 313.0,253.9 313.3,253.2 C313.5,252.5 313.7,251.8 314.0,251.2 C314.2,250.6 314.4,250.0 314.7,249.7 C314.9,249.3 315.1,249.0 315.4,248.9 C315.6,248.8 315.8,248.8 316.1,249.1 C316.3,249.3 316.5,249.6 316.8,250.1 C317.0,250.6 317.2,251.2 317.5,251.8 C317.7,252.5 317.9,253.2 318.2,253.9 C318.4,254.5 318.6,255.3 318.9,255.8 C319.1,256.4 319.3,256.9 319.6,257.3 C319.8,257.6 320.0,257.8 320.3,257.9 C320.5,257.9 320.7,257.8 321.0,257.6 C321.2,257.3 321.4,256.9 321.7,256.4 C321.9,255.9 322.1,255.2 322.4,254.6 C322.6,253.9 322.8,253.2 323.1,252.5 C323.3,251.8 323.5,251.1 323.8,250.6 C324.0,250.1 324.2,249.6 324.5,249.3 C324.7,249.0 324.9,248.8 325.2,248.8 C325.4,248.9 325.6,249.0 325.9,249.4 C326.1,249.7 326.3,250.2 326.6,250.7 C326.8,251.3 327.0,252.0 327.3,252.7 C327.5,253.4 327.7,254.2 328.0,254.8 C328.2,255.5 328.4,256.2 328.7,256.7 C328.9,257.2 329.1,257.6 329.4,257.8 C329.6,258.1 329.8,258.2 330.1,258.1 C330.3,258.0 330.5,257.7 330.8,257.3 C331.0,256.9 331.2,256.3 331.5,255.6 C331.7,255.0 331.9,254.2 332.2,253.5 C332.4,252.8 332.6,252.0 332.9,251.3 C333.1,250.6 333.3,250.0 333.6,249.5 C333.8,249.1 334.0,248.7 334.3,248.6 C334.5,248.4 334.7,248.4 335.0,248.6 C335.2,248.8 335.4,249.2 335.7,249.7 C335.9,250.3 336.1,251.0 336.4,251.7 C336.6,252.4 336.8,253.2 337.1,254.0 C337.3,254.7 337.5,255.6 337.8,256.2 C338.0,256.9 338.2,257.5 338.5,257.9 C338.7,258.3 338.9,258.5 339.2,258.6 C339.4,258.6 339.6,258.5 339.9,258.2 C340.1,257.9 340.3,257.4 340.6,256.7 C340.8,256.1 341.0,255.3 341.3,254.6 C341.5,253.8 341.7,252.9 342.0,252.1 C342.2,251.3 342.4,250.5 342.7,249.8 C342.9,249.2 343.1,248.7 343.4,248.4 C343.6,248.0 343.8,247.9 344.1,247.9 C344.3,248.0 344.5,248.2 344.8,248.7 C345.0,249.1 345.2,249.7 345.5,250.4 C345.7,251.1 346.0,252.0 346.2,252.9 C346.4,253.7 346.7,254.7 346.9,255.4 C347.1,256.2 347.4,257.0 347.6,257.6 C347.8,258.2 348.1,258.7 348.3,258.9 C348.5,259.2 348.8,259.2 349.0,259.1 C349.2,258.9 349.5,258.5 349.7,258.0 C349.9,257.5 350.2,256.7 350.4,255.9 C350.6,255.2 350.9,254.2 351.1,253.3 C351.3,252.5 351.6,251.5 351.8,250.7 C352.0,249.9 352.3,249.2 352.5,248.6 C352.7,248.1 353.0,247.7 353.2,247.5 C353.4,247.4 353.7,247.4 353.9,247.7 C354.1,247.9 354.4,248.4 354.6,249.0 C354.8,249.6 355.1,250.4 355.3,251.2 C355.5,252.1 355.8,253.0 356.0,253.9 C356.2,254.8 356.5,255.8 356.7,256.5 C356.9,257.3 357.2,258.0 357.4,258.5 C357.6,259.0 357.9,259.3 358.1,259.4 C358.3,259.5 358.6,259.4 358.8,259.1 C359.0,258.8 359.3,258.3 359.5,257.7 C359.7,257.0 360.0,256.2 360.2,255.3 C360.4,254.5 360.7,253.5 360.9,252.6 C361.1,251.7 361.4,250.8 361.6,250.0 C361.8,249.3 362.1,248.6 362.3,248.2 C362.5,247.7 362.6,247.4 363.0,247.3 C363.4,247.3 363.6,245.7 364.4,248.0 C365.2,250.3 366.7,261.0 367.9,261.0 C369.1,261.0 370.2,247.9 371.4,248.0 C372.6,248.1 373.8,261.6 375.0,261.5 C376.2,261.4 377.4,247.3 378.5,247.2 C379.6,247.1 380.6,260.7 381.6,261.0 C382.6,261.3 383.6,249.7 384.6,249.2 C385.6,248.7 386.6,255.7 387.6,258.0 C388.6,260.4 389.4,264.4 390.6,263.3 C391.8,262.2 393.1,251.4 394.6,251.2 C396.1,251.0 398.2,261.7 399.7,262.3 C401.2,262.9 400.8,255.9 403.7,254.9 C406.6,253.9 412.6,255.6 416.8,256.3 C421.0,257.0 426.3,259.4 429.0,259.3 C431.7,259.2 431.8,256.0 433.0,255.7 C434.2,255.4 434.3,256.9 436.0,257.5 C437.7,258.1 441.2,259.4 443.0,259.3 C444.8,259.2 445.6,257.7 447.0,257.0 C448.4,256.3 449.8,254.5 451.1,255.3 C452.4,256.1 453.9,260.2 455.0,262.0 C456.1,263.8 456.7,264.9 457.5,266.0 C458.3,267.1 459.2,269.0 460.0,268.5 C460.8,268.0 461.7,266.6 462.5,263.0 C463.3,259.4 464.0,248.0 464.6,247.1 C465.2,246.2 465.4,259.2 466.1,257.6 C466.8,256.0 468.0,237.8 469.0,237.5 C470.0,237.2 470.9,255.3 472.0,256.0 C473.1,256.7 474.7,241.9 475.8,241.9 C476.9,241.9 477.6,255.5 478.7,256.1 C479.8,256.7 481.8,247.5 482.5,245.7 C483.2,243.9 482.8,245.2 483.0,245.1 C483.2,245.0 483.5,244.5 483.7,244.9 C483.9,245.2 484.2,246.1 484.4,247.1 C484.6,248.1 484.9,249.7 485.1,251.0 C485.3,252.2 485.6,253.8 485.8,254.8 C486.0,255.8 486.3,256.7 486.5,257.0 C486.7,257.3 487.0,257.1 487.2,256.6 C487.4,256.0 487.7,254.9 487.9,253.7 C488.1,252.5 488.4,250.9 488.6,249.5 C488.8,248.2 489.1,246.7 489.3,245.9 C489.5,245.0 489.8,244.3 490.0,244.3 C490.2,244.2 490.5,244.7 490.7,245.4 C490.9,246.2 491.2,247.6 491.4,248.9 C491.6,250.2 491.9,252.0 492.1,253.3 C492.3,254.5 492.6,255.9 492.8,256.5 C493.0,257.2 493.3,257.5 493.5,257.3 C493.8,257.1 494.0,256.3 494.2,255.2 C494.5,254.2 494.7,252.6 494.9,251.2 C495.2,249.8 495.4,248.1 495.6,246.9 C495.9,245.8 496.1,244.7 496.3,244.3 C496.6,243.9 496.8,244.0 497.0,244.6 C497.3,245.1 497.5,246.3 497.7,247.6 C498.0,248.8 498.2,250.6 498.4,252.0 C498.7,253.4 498.9,254.9 499.1,255.9 C499.4,256.8 499.6,257.4 499.8,257.4 C500.1,257.5 500.3,256.9 500.5,256.0 C500.8,255.1 501.0,253.6 501.2,252.2 C501.5,250.8 501.7,249.0 501.9,247.8 C502.2,246.5 502.4,245.2 502.6,244.6 C502.9,244.1 503.1,243.9 503.3,244.3 C503.6,244.7 503.8,245.7 504.0,246.9 C504.3,248.0 504.5,249.8 504.7,251.2 C505.0,252.6 505.2,254.3 505.4,255.3 C505.7,256.3 505.9,257.1 506.1,257.2 C506.4,257.4 506.6,257.0 506.8,256.2 C507.1,255.4 507.3,253.9 507.5,252.6 C507.8,251.3 508.0,249.5 508.2,248.2 C508.5,246.9 508.7,245.6 508.9,245.0 C509.2,244.3 509.4,244.1 509.6,244.4 C509.9,244.7 510.1,245.7 510.3,246.8 C510.6,247.9 510.8,249.6 511.0,251.0 C511.3,252.3 511.5,254.0 511.7,255.0 C512.0,256.0 512.2,256.8 512.4,257.0 C512.7,257.1 512.9,256.7 513.1,256.0 C513.4,255.2 513.6,253.8 513.8,252.5 C514.1,251.3 514.3,249.5 514.5,248.3 C514.8,247.0 515.0,245.8 515.2,245.2 C515.5,244.6 515.7,244.4 516.0,244.7 C516.2,245.0 516.4,246.0 516.7,247.0 C516.9,248.1 517.1,249.8 517.4,251.1 C517.6,252.4 517.8,254.0 518.1,254.9 C518.3,255.8 518.5,256.6 518.8,256.7 C519.0,256.8 519.2,256.3 519.5,255.6 C519.7,254.9 519.9,253.4 520.2,252.2 C520.4,250.9 520.6,249.3 520.9,248.1 C521.1,247.0 521.3,245.8 521.6,245.3 C521.8,244.8 522.0,244.7 522.3,245.0 C522.5,245.4 522.7,246.4 523.0,247.4 C523.2,248.5 523.4,250.1 523.7,251.3 C523.9,252.6 524.1,254.0 524.4,254.9 C524.6,255.7 524.8,256.3 525.1,256.4 C525.3,256.4 525.5,255.9 525.8,255.1 C526.0,254.4 526.2,253.0 526.5,251.8 C526.7,250.6 526.9,249.0 527.2,247.9 C527.4,246.8 527.6,245.8 527.9,245.4 C528.1,244.9 528.3,244.9 528.6,245.3 C528.8,245.7 529.0,246.7 529.3,247.8 C529.5,248.8 529.7,250.4 530.0,251.6 C530.2,252.8 530.4,254.2 530.7,254.9 C530.9,255.7 531.1,256.2 531.4,256.2 C531.6,256.2 531.8,255.6 532.1,254.9 C532.3,254.1 532.5,252.7 532.8,251.5 C533.0,250.3 533.2,248.7 533.5,247.7 C533.7,246.7 533.9,245.7 534.2,245.3 C534.4,244.9 534.6,244.9 534.9,245.4 C535.1,245.8 535.3,246.8 535.6,247.9 C535.8,249.0 536.0,250.5 536.3,251.7 C536.5,252.9 536.8,254.3 537.0,255.0 C537.2,255.8 537.5,256.3 537.7,256.3 C537.9,256.3 538.2,255.7 538.4,254.9 C538.6,254.1 538.9,252.7 539.1,251.5 C539.3,250.3 539.6,248.7 539.8,247.6 C540.0,246.6 540.3,245.5 540.5,245.1 C540.7,244.7 541.0,244.7 541.2,245.1 C541.4,245.5 541.7,246.6 541.9,247.6 C542.1,248.7 542.4,250.3 542.6,251.6 C542.8,252.8 543.1,254.2 543.3,255.1 C543.5,255.9 543.8,256.5 544.0,256.6 C544.2,256.6 544.5,256.1 544.7,255.3 C544.9,254.6 545.2,253.1 545.4,251.9 C545.6,250.6 545.9,249.0 546.1,247.8 C546.3,246.6 546.6,245.4 546.8,244.9 C547.0,244.4 547.3,244.2 547.5,244.5 C547.7,244.9 548.0,245.8 548.2,246.9 C548.4,247.9 548.7,249.6 548.9,250.9 C549.1,252.3 549.4,253.9 549.6,254.9 C549.8,255.9 550.1,256.7 550.3,256.9 C550.5,257.2 550.8,256.9 551.0,256.2 C551.2,255.5 551.5,254.2 551.7,252.9 C551.9,251.6 552.2,249.9 552.4,248.5 C552.6,247.2 552.9,245.7 553.1,245.0 C553.3,244.2 553.6,243.7 553.8,243.8 C554.0,243.9 554.3,244.6 554.5,245.6 C554.7,246.5 555.0,248.1 555.2,249.6 C555.4,251.0 555.7,252.8 555.9,254.0 C556.1,255.3 556.4,256.5 556.6,257.0 C556.8,257.6 557.1,257.7 557.3,257.3 C557.5,256.9 557.8,255.8 558.0,254.6 C558.2,253.4 558.5,251.6 558.7,250.1 C559.0,248.7 559.2,246.9 559.4,245.8 C559.7,244.6 559.9,243.7 560.1,243.4 C560.4,243.1 560.6,243.3 560.8,244.0 C561.1,244.6 561.3,246.0 561.5,247.4 C561.8,248.7 562.0,250.6 562.2,252.1 C562.5,253.6 562.7,255.3 562.9,256.2 C563.2,257.2 563.4,258.0 563.6,258.0 C563.9,258.1 564.1,257.6 564.3,256.7 C564.6,255.8 564.8,254.2 565.0,252.7 C565.3,251.3 565.5,249.3 565.7,247.8 C566.0,246.4 566.2,244.8 566.4,244.0 C566.7,243.2 566.9,242.7 567.1,242.8 C567.4,242.9 567.6,243.7 567.8,244.7 C568.1,245.8 568.3,247.5 568.5,249.0 C568.8,250.6 569.0,252.5 569.2,253.9 C569.5,255.4 569.7,256.8 569.9,257.5 C570.2,258.2 570.4,258.5 570.6,258.2 C570.9,257.9 571.1,257.0 571.3,255.8 C571.6,254.7 571.8,252.8 572.0,251.3 C572.3,249.7 572.5,247.8 572.7,246.4 C573.0,245.0 573.2,243.7 573.4,243.1 C573.7,242.5 573.9,242.4 574.1,242.8 C574.4,243.2 574.6,244.2 574.8,245.5 C575.1,246.7 575.3,248.6 575.5,250.1 C575.8,251.7 576.0,253.6 576.2,254.9 C576.5,256.2 576.7,257.4 576.9,257.9 C577.2,258.4 577.4,258.5 577.6,258.0 C577.9,257.5 578.1,256.4 578.3,255.1 C578.6,253.9 578.8,252.0 579.0,250.5 C579.3,248.9 579.5,247.0 579.8,245.8 C580.0,244.5 580.2,243.4 580.5,243.0 C580.7,242.5 580.9,242.5 581.2,243.0 C581.4,243.5 581.6,244.7 581.9,245.9 C582.1,247.2 582.3,249.0 582.6,250.6 C582.8,252.1 583.0,253.9 583.3,255.1 C583.5,256.3 583.7,257.4 584.0,257.8 C584.2,258.2 584.4,258.2 584.7,257.7 C584.9,257.2 585.1,256.0 585.4,254.8 C585.6,253.5 585.8,251.7 586.1,250.2 C586.3,248.7 586.5,247.0 586.8,245.8 C587.0,244.7 587.2,243.6 587.5,243.2 C587.7,242.8 587.9,242.9 588.2,243.4 C588.4,243.8 588.6,245.0 588.9,246.2 C589.1,247.4 589.3,249.1 589.6,250.5 C589.8,252.0 590.0,253.7 590.3,254.8 C590.5,255.9 590.7,256.9 591.0,257.4 C591.2,257.8 591.4,257.7 591.7,257.3 C591.9,256.8 592.1,255.7 592.4,254.6 C592.6,253.4 592.8,251.7 593.1,250.4 C593.3,249.0 593.5,247.3 593.8,246.2 C594.0,245.1 594.2,244.1 594.5,243.7 C594.7,243.3 594.9,243.3 595.2,243.7 C595.4,244.2 595.6,245.2 595.9,246.3 C596.1,247.4 596.3,249.0 596.6,250.3 C596.8,251.6 597.0,253.2 597.3,254.3 C597.5,255.4 597.7,256.4 598.0,256.8 C598.2,257.2 598.4,257.2 598.7,256.8 C598.9,256.4 599.1,255.5 599.4,254.4 C599.6,253.4 599.8,251.8 600.1,250.5 C600.3,249.3 600.5,247.7 600.8,246.7 C601.0,245.6 601.2,244.6 601.5,244.2 C601.7,243.8 602.0,243.8 602.2,244.1 C602.4,244.5 602.7,245.4 602.9,246.4 C603.1,247.4 603.4,248.9 603.6,250.1 C603.8,251.4 604.1,252.9 604.3,253.9 C604.5,254.9 604.8,255.9 605.0,256.3 C605.2,256.7 605.5,256.8 605.7,256.4 C605.9,256.1 606.2,255.2 606.4,254.2 C606.6,253.3 606.9,251.8 607.1,250.6 C607.3,249.4 607.6,247.9 607.8,246.9 C608.0,245.9 608.3,244.9 608.5,244.5 C608.7,244.1 609.0,244.1 609.2,244.4 C609.4,244.7 609.7,245.6 609.9,246.5 C610.1,247.5 610.4,248.9 610.6,250.1 C610.8,251.3 611.1,252.8 611.3,253.8 C611.5,254.8 611.7,256.8 612.0,256.1 C612.3,255.4 612.5,250.2 613.0,249.5 C613.5,248.8 614.3,251.1 615.0,252.0 C615.7,252.9 616.7,254.5 617.0,255.0" stroke="#FF80A8" stroke-width="1.95"/>
<path d="M67.0,271.6 C67.1,271.8 67.5,272.5 67.7,272.7 C67.9,272.9 68.2,272.9 68.4,272.8 C68.6,272.6 68.9,272.3 69.1,271.9 C69.3,271.4 69.6,270.8 69.8,270.3 C70.0,269.8 70.3,269.2 70.5,268.9 C70.7,268.5 71.0,268.3 71.2,268.2 C71.4,268.2 71.7,268.3 71.9,268.6 C72.1,268.9 72.4,269.4 72.6,269.9 C72.8,270.4 73.1,271.0 73.3,271.5 C73.5,271.9 73.8,272.4 74.0,272.6 C74.2,272.8 74.5,272.9 74.7,272.8 C74.9,272.7 75.2,272.3 75.4,271.9 C75.7,271.5 75.9,270.9 76.1,270.4 C76.4,269.8 76.6,269.2 76.8,268.8 C77.1,268.4 77.3,268.1 77.5,268.0 C77.8,267.9 78.0,268.1 78.2,268.3 C78.5,268.6 78.7,269.1 78.9,269.6 C79.2,270.1 79.4,270.7 79.6,271.2 C79.9,271.7 80.1,272.3 80.3,272.5 C80.6,272.8 80.8,273.0 81.0,272.9 C81.3,272.8 81.5,272.5 81.7,272.1 C82.0,271.7 82.2,271.1 82.4,270.5 C82.7,270.0 82.9,269.3 83.1,268.9 C83.4,268.4 83.6,268.0 83.8,267.8 C84.1,267.7 84.3,267.7 84.5,267.9 C84.8,268.1 85.0,268.6 85.2,269.1 C85.5,269.6 85.7,270.3 85.9,270.9 C86.2,271.4 86.4,272.0 86.6,272.4 C86.9,272.7 87.1,273.0 87.3,273.0 C87.6,273.0 87.8,272.8 88.0,272.4 C88.3,272.0 88.5,271.4 88.7,270.8 C89.0,270.3 89.2,269.5 89.4,269.0 C89.7,268.5 89.9,268.0 90.1,267.7 C90.4,267.5 90.6,267.4 90.8,267.5 C91.1,267.7 91.3,268.1 91.5,268.6 C91.8,269.1 92.0,269.8 92.2,270.4 C92.5,271.0 92.7,271.7 93.0,272.1 C93.2,272.6 93.4,272.9 93.7,273.0 C93.9,273.1 94.1,273.0 94.4,272.7 C94.6,272.4 94.8,271.8 95.1,271.2 C95.3,270.6 95.5,269.8 95.8,269.2 C96.0,268.6 96.2,268.0 96.5,267.7 C96.7,267.3 96.9,267.2 97.2,267.2 C97.4,267.3 97.6,267.6 97.9,268.1 C98.1,268.5 98.3,269.3 98.6,269.9 C98.8,270.5 99.0,271.3 99.3,271.8 C99.5,272.3 99.7,272.8 100.0,273.0 C100.2,273.1 100.4,273.1 100.7,272.8 C100.9,272.6 101.1,272.0 101.4,271.5 C101.6,270.9 101.8,270.1 102.1,269.5 C102.3,268.8 102.5,268.1 102.8,267.7 C103.0,267.3 103.2,267.0 103.5,267.0 C103.7,267.0 103.9,267.3 104.2,267.7 C104.4,268.1 104.6,268.9 104.9,269.5 C105.1,270.1 105.3,270.9 105.6,271.5 C105.8,272.0 106.0,272.6 106.3,272.8 C106.5,273.0 106.7,273.1 107.0,272.9 C107.2,272.7 107.4,272.1 107.7,271.6 C107.9,271.0 108.1,270.2 108.4,269.6 C108.6,268.9 108.8,268.2 109.1,267.8 C109.3,267.3 109.5,267.0 109.8,267.0 C110.0,266.9 110.3,267.2 110.5,267.6 C110.7,267.9 111.0,268.7 111.2,269.3 C111.4,269.9 111.7,270.7 111.9,271.3 C112.1,271.8 112.4,272.4 112.6,272.6 C112.8,272.9 113.1,272.9 113.3,272.7 C113.5,272.5 113.8,272.0 114.0,271.5 C114.2,270.9 114.5,270.1 114.7,269.5 C114.9,268.9 115.2,268.1 115.4,267.7 C115.6,267.3 115.9,267.0 116.1,267.0 C116.3,267.0 116.6,267.2 116.8,267.6 C117.0,268.0 117.3,268.7 117.5,269.3 C117.7,269.9 118.0,270.7 118.2,271.2 C118.4,271.8 118.7,272.3 118.9,272.5 C119.1,272.7 119.4,272.7 119.6,272.4 C119.8,272.2 120.1,271.6 120.3,271.1 C120.5,270.6 120.8,269.8 121.0,269.2 C121.2,268.6 121.5,267.9 121.7,267.6 C121.9,267.2 122.2,267.0 122.4,267.1 C122.6,267.1 122.9,267.4 123.1,267.9 C123.3,268.3 123.6,269.0 123.8,269.6 C124.0,270.2 124.3,270.9 124.5,271.4 C124.7,271.8 125.0,272.2 125.2,272.3 C125.4,272.4 125.7,272.3 125.9,272.0 C126.1,271.7 126.4,271.0 126.6,270.5 C126.8,269.9 127.1,269.2 127.3,268.7 C127.6,268.1 127.8,267.6 128.0,267.4 C128.3,267.1 128.5,267.1 128.7,267.3 C129.0,267.4 129.2,267.9 129.4,268.4 C129.7,268.8 129.9,269.6 130.1,270.1 C130.4,270.6 130.6,271.3 130.8,271.6 C131.1,271.9 131.3,272.1 131.5,272.1 C131.8,272.0 132.0,271.7 132.2,271.3 C132.5,270.9 132.7,270.2 132.9,269.7 C133.2,269.1 133.4,268.4 133.6,268.0 C133.9,267.6 134.1,267.3 134.3,267.2 C134.6,267.2 134.8,267.4 135.0,267.7 C135.3,268.0 135.5,268.6 135.7,269.1 C136.0,269.6 136.2,270.3 136.4,270.7 C136.7,271.2 136.9,271.6 137.1,271.7 C137.4,271.9 137.6,271.8 137.8,271.6 C138.1,271.4 138.3,270.8 138.5,270.4 C138.8,269.9 139.0,269.2 139.2,268.7 C139.5,268.2 139.7,267.7 139.9,267.5 C140.2,267.3 140.4,267.2 140.6,267.4 C140.9,267.5 141.1,267.9 141.3,268.4 C141.6,268.8 141.8,269.5 142.0,270.0 C142.3,270.5 142.5,271.0 142.7,271.3 C143.0,271.6 143.2,271.7 143.4,271.6 C143.7,271.5 143.9,271.2 144.1,270.8 C144.4,270.4 144.6,269.7 144.9,269.3 C145.1,268.8 145.3,268.1 145.6,267.8 C145.8,267.5 146.0,267.3 146.3,267.3 C146.5,267.3 146.7,267.6 147.0,267.9 C147.2,268.3 147.4,268.9 147.7,269.4 C147.9,269.9 148.1,270.5 148.4,270.9 C148.6,271.3 148.8,271.6 149.1,271.6 C149.3,271.6 149.5,271.4 149.8,271.1 C150.0,270.8 150.2,270.2 150.5,269.7 C150.7,269.2 150.9,268.5 151.2,268.1 C151.4,267.7 151.6,267.3 151.9,267.3 C152.1,267.2 152.3,267.3 152.6,267.6 C152.8,267.9 153.0,268.5 153.3,269.0 C153.5,269.5 153.7,270.2 154.0,270.6 C154.2,271.0 154.4,271.4 154.7,271.5 C154.9,271.7 155.1,271.6 155.4,271.3 C155.6,271.0 155.8,270.5 156.1,270.0 C156.3,269.5 156.5,268.8 156.8,268.3 C157.0,267.9 157.2,267.4 157.5,267.2 C157.7,267.1 157.9,267.1 158.2,267.3 C158.4,267.6 158.6,268.1 158.9,268.6 C159.1,269.1 159.3,269.8 159.6,270.3 C159.8,270.8 160.0,271.3 160.3,271.5 C160.5,271.7 160.7,271.7 161.0,271.5 C161.2,271.3 161.4,270.8 161.7,270.3 C161.9,269.8 162.2,269.0 162.4,268.5 C162.6,268.0 162.9,267.4 163.1,267.2 C163.3,266.9 163.6,266.9 163.8,267.0 C164.0,267.2 164.3,267.7 164.5,268.2 C164.7,268.7 165.0,269.5 165.2,270.0 C165.4,270.6 165.7,271.2 165.9,271.4 C166.1,271.7 166.4,271.8 166.6,271.7 C166.8,271.6 167.1,271.1 167.3,270.6 C167.5,270.1 167.8,269.3 168.0,268.8 C168.2,268.2 168.5,267.5 168.7,267.2 C168.9,266.9 169.2,266.7 169.4,266.8 C169.6,266.9 169.9,267.3 170.1,267.8 C170.3,268.2 170.6,269.0 170.8,269.6 C171.0,270.2 171.3,270.9 171.5,271.3 C171.7,271.7 172.0,271.9 172.2,271.9 C172.4,271.8 172.7,271.4 172.9,271.0 C173.1,270.5 173.4,269.7 173.6,269.1 C173.8,268.5 174.1,267.7 174.3,267.3 C174.5,266.9 174.8,266.6 175.0,266.6 C175.2,266.6 175.5,266.9 175.7,267.3 C175.9,267.7 176.2,268.5 176.4,269.1 C176.6,269.7 176.9,270.5 177.1,271.0 C177.3,271.5 177.6,271.9 177.8,272.0 C178.0,272.0 178.3,271.8 178.5,271.4 C178.7,271.0 179.0,270.3 179.2,269.6 C179.5,269.0 179.7,268.2 179.9,267.6 C180.2,267.1 180.4,266.6 180.6,266.5 C180.9,266.3 181.1,266.5 181.3,266.8 C181.6,267.1 181.8,267.8 182.0,268.4 C182.3,269.0 182.5,269.9 182.7,270.5 C183.0,271.0 183.2,271.6 183.4,271.8 C183.7,272.1 183.9,272.0 184.1,271.8 C184.4,271.5 184.6,270.9 184.8,270.4 C185.1,269.8 185.3,268.9 185.5,268.3 C185.8,267.7 186.0,267.0 186.2,266.7 C186.5,266.4 186.7,266.3 186.9,266.4 C187.2,266.5 187.4,267.0 187.6,267.6 C187.9,268.1 188.1,268.9 188.3,269.6 C188.6,270.2 188.8,270.9 189.0,271.3 C189.3,271.7 189.5,272.0 189.7,272.0 C190.0,271.9 190.2,271.6 190.4,271.1 C190.7,270.7 190.9,269.9 191.1,269.2 C191.4,268.6 191.6,267.8 191.8,267.3 C192.1,266.8 192.3,266.4 192.5,266.3 C192.8,266.3 193.0,266.4 193.2,266.8 C193.5,267.1 193.7,267.8 193.9,268.4 C194.2,269.0 194.4,269.8 194.6,270.4 C194.9,270.9 195.1,271.5 195.3,271.7 C195.6,271.9 195.8,271.9 196.0,271.7 C196.3,271.4 196.5,270.9 196.8,270.4 C197.0,269.8 197.2,269.0 197.5,268.4 C197.7,267.8 197.9,267.2 198.2,266.9 C198.4,266.5 198.6,266.3 198.9,266.4 C199.1,266.5 199.3,266.8 199.6,267.3 C199.8,267.7 200.0,268.4 200.3,269.0 C200.5,269.6 200.7,270.3 201.0,270.8 C201.2,271.2 201.4,271.6 201.7,271.6 C201.9,271.7 202.1,271.6 202.4,271.3 C202.6,270.9 202.8,270.3 203.1,269.8 C203.3,269.3 203.5,268.5 203.8,268.0 C204.0,267.5 204.2,267.0 204.5,266.7 C204.7,266.5 204.9,266.4 205.2,266.6 C205.4,266.7 205.6,267.2 205.9,267.6 C206.1,268.1 206.3,268.8 206.6,269.3 C206.8,269.8 207.0,270.4 207.3,270.8 C207.5,271.2 207.7,271.4 208.0,271.4 C208.2,271.5 208.4,271.2 208.7,270.9 C208.9,270.6 209.1,270.0 209.4,269.5 C209.6,269.0 209.8,268.3 210.1,267.9 C210.3,267.4 210.5,267.0 210.8,266.8 C211.0,266.6 211.2,266.6 211.5,266.8 C211.7,266.9 211.9,267.3 212.2,267.8 C212.4,268.2 212.6,268.8 212.9,269.3 C213.1,269.8 213.3,270.3 213.6,270.7 C213.8,271.0 214.1,271.2 214.3,271.2 C214.5,271.2 214.8,271.0 215.0,270.7 C215.2,270.4 215.5,269.9 215.7,269.4 C215.9,269.0 216.2,268.3 216.4,267.9 C216.6,267.5 216.9,267.1 217.1,266.9 C217.3,266.7 217.6,266.7 217.8,266.9 C218.0,267.0 218.3,267.3 218.5,267.7 C218.7,268.1 219.0,268.7 219.2,269.1 C219.4,269.6 219.7,270.1 219.9,270.4 C220.1,270.7 220.4,271.0 220.6,271.0 C220.8,271.1 221.1,270.9 221.3,270.6 C221.5,270.4 221.8,269.8 222.0,269.5 C222.2,269.2 222.0,268.4 222.3,269.0 C222.6,269.6 223.3,269.6 224.0,273.0 C224.7,276.4 225.5,288.8 226.5,289.7 C227.5,290.6 228.5,281.0 229.8,278.6 C231.1,276.2 232.8,276.9 234.3,275.2 C235.8,273.5 237.4,268.2 238.7,268.6 C240.0,269.0 241.2,274.4 242.1,277.5 C243.0,280.6 243.4,286.9 244.3,287.5 C245.2,288.1 246.8,281.6 247.7,280.8 C248.6,280.1 249.0,284.1 249.9,283.0 C250.8,281.9 252.1,275.8 253.2,274.1 C254.3,272.4 255.5,272.9 256.6,273.0 C257.7,273.1 259.3,274.0 260.0,274.5 C260.7,275.0 260.7,275.7 261.0,275.8 C261.3,275.9 261.5,275.5 261.7,275.3 C261.9,275.1 262.2,274.8 262.4,274.6 C262.6,274.4 262.9,274.1 263.1,273.9 C263.3,273.7 263.6,273.5 263.8,273.3 C264.0,273.1 264.3,273.0 264.5,272.9 C264.7,272.8 265.0,272.8 265.2,272.8 C265.4,272.8 265.7,272.9 265.9,273.0 C266.1,273.1 266.4,273.3 266.6,273.4 C266.8,273.6 267.1,273.8 267.3,274.1 C267.5,274.3 267.8,274.5 268.0,274.7 C268.2,275.0 268.5,275.2 268.7,275.3 C268.9,275.5 269.2,275.7 269.4,275.8 C269.6,275.8 269.9,275.9 270.1,275.9 C270.3,275.9 270.6,275.8 270.8,275.7 C271.0,275.6 271.3,275.5 271.5,275.3 C271.7,275.1 272.0,274.9 272.2,274.7 C272.4,274.5 272.7,274.2 272.9,274.0 C273.1,273.8 273.4,273.5 273.6,273.4 C273.8,273.2 274.1,273.0 274.3,272.9 C274.5,272.8 274.8,272.8 275.0,272.8 C275.2,272.8 275.5,272.8 275.7,272.9 C275.9,273.0 276.2,273.2 276.4,273.4 C276.6,273.5 276.9,273.8 277.1,274.0 C277.3,274.2 277.6,274.5 277.8,274.7 C278.0,274.9 278.3,275.1 278.5,275.3 C278.7,275.5 279.0,275.6 279.2,275.7 C279.4,275.8 279.7,275.9 279.9,275.8 C280.1,275.8 280.4,275.8 280.6,275.7 C280.8,275.6 281.1,275.4 281.3,275.2 C281.5,275.0 281.8,274.8 282.0,274.5 C282.2,274.3 282.5,274.0 282.7,273.8 C282.9,273.6 283.2,273.3 283.4,273.2 C283.6,273.0 283.9,272.8 284.1,272.8 C284.3,272.7 284.6,272.6 284.8,272.7 C285.0,272.7 285.3,272.8 285.5,272.9 C285.7,273.0 286.0,273.2 286.2,273.4 C286.4,273.6 286.7,273.9 286.9,274.1 C287.1,274.4 287.4,274.7 287.6,274.9 C287.8,275.1 288.1,275.3 288.3,275.5 C288.5,275.7 288.8,275.8 289.0,275.9 C289.2,275.9 289.5,276.0 289.7,275.9 C289.9,275.8 290.2,275.7 290.4,275.6 C290.6,275.4 290.9,275.2 291.1,274.9 C291.3,274.7 291.6,274.4 291.8,274.1 C292.0,273.9 292.3,273.6 292.5,273.3 C292.7,273.1 293.0,272.9 293.2,272.7 C293.4,272.6 293.7,272.5 293.9,272.4 C294.1,272.4 294.4,272.4 294.6,272.5 C294.8,272.6 295.1,272.8 295.3,273.0 C295.5,273.2 295.8,273.5 296.0,273.7 C296.2,274.0 296.5,274.3 296.7,274.6 C296.9,274.9 297.2,275.2 297.4,275.4 C297.6,275.6 297.9,275.8 298.1,275.9 C298.3,276.0 298.6,276.1 298.8,276.1 C299.0,276.0 299.3,276.0 299.5,275.8 C299.7,275.7 300.0,275.4 300.2,275.2 C300.4,274.9 300.7,274.6 300.9,274.3 C301.1,274.0 301.4,273.7 301.6,273.4 C301.8,273.1 302.1,272.8 302.3,272.6 C302.5,272.4 302.8,272.3 303.0,272.2 C303.2,272.2 303.5,272.2 303.7,272.3 C303.9,272.3 304.2,272.5 304.4,272.7 C304.6,272.9 304.9,273.2 305.1,273.5 C305.3,273.8 305.6,274.1 305.8,274.4 C306.0,274.7 306.3,275.1 306.5,275.3 C306.7,275.6 307.0,275.8 307.2,275.9 C307.4,276.1 307.7,276.2 307.9,276.2 C308.1,276.2 308.4,276.1 308.6,275.9 C308.8,275.8 309.1,275.5 309.3,275.3 C309.5,275.0 309.8,274.7 310.0,274.3 C310.2,274.0 310.5,273.7 310.7,273.4 C310.9,273.1 311.2,272.8 311.4,272.5 C311.6,272.3 311.9,272.2 312.1,272.1 C312.3,272.0 312.6,272.0 312.8,272.1 C313.0,272.2 313.3,272.3 313.5,272.6 C313.7,272.8 314.0,273.1 314.2,273.4 C314.4,273.7 314.7,274.0 314.9,274.4 C315.1,274.7 315.4,275.0 315.6,275.3 C315.8,275.5 316.1,275.8 316.3,275.9 C316.5,276.1 316.8,276.1 317.0,276.1 C317.2,276.1 317.5,276.0 317.7,275.9 C317.9,275.7 318.2,275.5 318.4,275.2 C318.6,275.0 318.9,274.6 319.1,274.3 C319.3,274.0 319.6,273.6 319.8,273.3 C320.0,273.0 320.3,272.7 320.5,272.5 C320.7,272.3 321.0,272.2 321.2,272.1 C321.4,272.0 321.7,272.0 321.9,272.1 C322.1,272.1 322.4,272.3 322.6,272.5 C322.8,272.7 323.1,273.0 323.3,273.3 C323.5,273.6 323.8,273.9 324.0,274.2 C324.2,274.5 324.5,274.9 324.7,275.1 C324.9,275.4 325.2,275.6 325.4,275.8 C325.6,275.9 325.9,276.0 326.1,276.0 C326.3,276.0 326.6,275.9 326.8,275.8 C327.0,275.7 327.3,275.4 327.5,275.2 C327.7,275.0 328.0,274.6 328.2,274.3 C328.4,274.1 328.7,273.7 328.9,273.4 C329.1,273.2 329.4,272.9 329.6,272.7 C329.8,272.5 330.1,272.3 330.3,272.2 C330.5,272.1 330.8,272.1 331.0,272.1 C331.2,272.2 331.5,272.3 331.7,272.5 C331.9,272.6 332.2,272.9 332.4,273.1 C332.6,273.4 332.9,273.7 333.1,273.9 C333.3,274.2 333.6,274.5 333.8,274.8 C334.0,275.0 334.3,275.2 334.5,275.4 C334.7,275.5 335.0,275.6 335.2,275.7 C335.4,275.7 335.7,275.7 335.9,275.6 C336.1,275.5 336.4,275.3 336.6,275.1 C336.8,274.9 337.1,274.6 337.3,274.4 C337.5,274.1 337.8,273.8 338.0,273.6 C338.2,273.3 338.5,273.0 338.7,272.8 C338.9,272.6 339.2,272.4 339.4,272.3 C339.6,272.2 339.9,272.1 340.1,272.1 C340.3,272.1 340.6,272.1 340.8,272.2 C341.0,272.3 341.3,272.5 341.5,272.7 C341.7,272.9 342.0,273.2 342.2,273.4 C342.4,273.6 342.7,273.9 342.9,274.1 C343.1,274.4 343.4,274.6 343.6,274.8 C343.8,275.0 344.1,275.1 344.3,275.2 C344.5,275.3 344.8,275.3 345.0,275.3 C345.2,275.3 345.5,275.2 345.7,275.0 C345.9,274.9 346.2,274.7 346.4,274.5 C346.6,274.3 346.9,274.1 347.1,273.8 C347.3,273.6 347.6,273.3 347.8,273.1 C348.0,272.9 348.3,272.6 348.5,272.5 C348.7,272.3 349.0,272.2 349.2,272.1 C349.4,272.0 349.7,272.0 349.9,272.0 C350.1,272.0 350.4,272.1 350.6,272.2 C350.8,272.4 351.1,272.5 351.3,272.7 C351.5,272.9 351.8,273.2 352.0,273.4 C352.2,273.6 352.5,273.8 352.7,274.0 C352.9,274.2 353.2,274.4 353.4,274.6 C353.6,274.7 353.9,274.9 354.1,274.9 C354.3,275.0 354.6,275.0 354.8,275.0 C355.0,274.9 355.3,274.8 355.5,274.7 C355.7,274.6 356.0,274.4 356.2,274.2 C356.4,274.0 356.7,273.8 356.9,273.5 C357.1,273.3 357.4,273.1 357.6,272.9 C357.8,272.6 358.1,272.4 358.3,272.3 C358.5,272.1 358.8,272.0 359.0,271.9 C359.2,271.8 359.5,271.8 359.7,271.8 C359.9,271.8 360.2,271.9 360.4,272.0 C360.6,272.1 360.9,272.3 361.1,272.5 C361.3,272.6 361.6,272.9 361.8,273.1 C362.0,273.3 362.3,273.5 362.5,273.7 C362.7,274.0 363.0,274.2 363.2,274.3 C363.4,274.5 363.7,274.6 363.9,274.7 C364.1,274.8 364.4,274.8 364.6,274.8 C364.8,274.8 365.1,274.7 365.3,274.6 C365.5,274.5 365.6,275.3 366.0,274.2 C366.4,273.1 366.7,268.3 367.4,268.0 C368.1,267.7 369.4,272.3 370.4,272.2 C371.4,272.1 372.4,267.6 373.5,267.6 C374.6,267.6 375.8,272.4 377.0,272.4 C378.2,272.4 379.4,267.5 380.5,267.4 C381.6,267.3 382.5,271.9 383.5,272.0 C384.5,272.1 385.6,267.9 386.6,267.8 C387.6,267.7 388.6,270.4 389.6,271.5 C390.6,272.6 391.2,274.8 392.6,274.4 C394.0,274.0 396.0,269.5 397.7,269.4 C399.4,269.3 401.2,273.6 402.7,273.8 C404.2,274.0 403.8,270.9 406.7,270.4 C409.6,269.9 416.3,270.4 420.0,270.8 C423.7,271.2 425.4,272.8 428.9,273.0 C432.4,273.2 437.0,272.2 441.0,271.8 C445.0,271.4 450.4,270.5 453.1,270.4 C455.8,270.3 455.9,270.5 457.0,271.4 C458.1,272.3 459.1,274.6 460.0,276.0 C460.9,277.4 461.3,280.0 462.1,279.5 C462.9,279.0 464.3,274.2 465.0,273.0 C465.7,271.8 465.6,273.1 466.1,272.4 C466.6,271.7 467.1,270.2 468.0,269.0 C468.9,267.8 470.5,265.7 471.2,265.3 C471.9,264.9 471.8,266.2 472.0,266.6 C472.2,267.0 472.5,267.4 472.7,267.8 C472.9,268.1 473.2,268.6 473.4,268.9 C473.6,269.2 473.9,269.5 474.1,269.6 C474.3,269.6 474.6,269.6 474.8,269.5 C475.0,269.3 475.3,269.0 475.5,268.7 C475.7,268.3 476.0,267.9 476.2,267.5 C476.4,267.1 476.7,266.6 476.9,266.3 C477.1,266.0 477.4,265.7 477.6,265.6 C477.8,265.5 478.1,265.5 478.3,265.6 C478.5,265.7 478.8,266.1 479.0,266.4 C479.2,266.7 479.5,267.2 479.7,267.6 C479.9,268.1 480.2,268.5 480.4,268.9 C480.6,269.2 480.9,269.5 481.1,269.6 C481.3,269.8 481.6,269.8 481.8,269.6 C482.0,269.5 482.3,269.2 482.5,268.8 C482.7,268.5 483.0,267.9 483.2,267.5 C483.4,267.1 483.7,266.5 483.9,266.2 C484.1,265.8 484.3,265.5 484.6,265.4 C484.8,265.3 485.0,265.3 485.3,265.4 C485.5,265.5 485.7,265.9 486.0,266.2 C486.2,266.6 486.4,267.1 486.7,267.6 C486.9,268.0 487.1,268.6 487.4,268.9 C487.6,269.3 487.8,269.6 488.1,269.8 C488.3,269.9 488.5,269.9 488.8,269.8 C489.0,269.6 489.2,269.3 489.5,268.9 C489.7,268.5 489.9,267.9 490.2,267.4 C490.4,267.0 490.6,266.4 490.9,266.0 C491.1,265.6 491.3,265.3 491.6,265.2 C491.8,265.0 492.0,265.0 492.3,265.2 C492.5,265.4 492.7,265.8 493.0,266.2 C493.2,266.6 493.4,267.2 493.7,267.7 C493.9,268.2 494.1,268.7 494.4,269.1 C494.6,269.5 494.8,269.8 495.1,269.9 C495.3,270.1 495.5,270.0 495.8,269.8 C496.0,269.6 496.2,269.2 496.5,268.8 C496.7,268.3 496.9,267.7 497.2,267.2 C497.4,266.7 497.6,266.1 497.9,265.7 C498.1,265.3 498.3,265.0 498.6,264.9 C498.8,264.8 499.0,264.9 499.3,265.2 C499.5,265.4 499.7,265.9 500.0,266.3 C500.2,266.8 500.4,267.5 500.7,268.0 C500.9,268.5 501.1,269.1 501.4,269.4 C501.6,269.8 501.8,270.0 502.1,270.1 C502.3,270.1 502.5,270.0 502.8,269.7 C503.0,269.4 503.2,268.9 503.5,268.4 C503.7,267.9 503.9,267.2 504.2,266.7 C504.4,266.2 504.6,265.6 504.9,265.3 C505.1,265.0 505.3,264.8 505.6,264.8 C505.8,264.8 506.0,265.1 506.3,265.4 C506.5,265.8 506.7,266.3 507.0,266.9 C507.2,267.4 507.4,268.1 507.7,268.6 C507.9,269.0 508.1,269.5 508.3,269.8 C508.6,270.0 508.8,270.1 509.0,270.0 C509.3,269.9 509.5,269.6 509.7,269.2 C510.0,268.8 510.2,268.1 510.4,267.6 C510.7,267.0 510.9,266.4 511.1,265.9 C511.4,265.5 511.6,265.1 511.8,264.9 C512.1,264.8 512.3,264.8 512.5,265.0 C512.8,265.2 513.0,265.6 513.2,266.1 C513.5,266.5 513.7,267.2 513.9,267.7 C514.2,268.3 514.4,268.9 514.6,269.3 C514.9,269.6 515.1,269.9 515.3,270.0 C515.6,270.0 515.8,269.8 516.0,269.6 C516.3,269.3 516.5,268.7 516.7,268.2 C517.0,267.7 517.2,267.0 517.4,266.5 C517.7,266.0 517.9,265.5 518.1,265.2 C518.4,265.0 518.6,264.8 518.8,264.9 C519.1,265.0 519.3,265.3 519.5,265.7 C519.8,266.0 520.0,266.7 520.2,267.2 C520.5,267.7 520.7,268.3 520.9,268.8 C521.2,269.2 521.4,269.6 521.6,269.7 C521.9,269.9 522.1,269.8 522.3,269.6 C522.6,269.4 522.8,269.0 523.0,268.5 C523.3,268.1 523.5,267.4 523.7,266.9 C524.0,266.4 524.2,265.9 524.4,265.5 C524.7,265.2 524.9,265.0 525.1,265.0 C525.4,265.0 525.6,265.2 525.8,265.5 C526.1,265.8 526.3,266.4 526.5,266.9 C526.8,267.4 527.0,268.0 527.2,268.4 C527.5,268.8 527.7,269.3 527.9,269.4 C528.2,269.6 528.4,269.7 528.6,269.5 C528.9,269.4 529.1,269.0 529.3,268.6 C529.6,268.2 529.8,267.6 530.0,267.1 C530.3,266.6 530.5,266.1 530.7,265.7 C531.0,265.4 531.2,265.2 531.4,265.1 C531.7,265.1 531.9,265.3 532.1,265.6 C532.3,265.8 532.6,266.3 532.8,266.8 C533.0,267.2 533.3,267.8 533.5,268.2 C533.7,268.6 534.0,269.1 534.2,269.2 C534.4,269.4 534.7,269.5 534.9,269.3 C535.1,269.2 535.4,268.9 535.6,268.5 C535.8,268.1 536.1,267.6 536.3,267.1 C536.5,266.7 536.8,266.1 537.0,265.8 C537.2,265.5 537.5,265.3 537.7,265.3 C537.9,265.2 538.2,265.4 538.4,265.6 C538.6,265.9 538.9,266.4 539.1,266.8 C539.3,267.2 539.6,267.8 539.8,268.2 C540.0,268.6 540.3,269.0 540.5,269.1 C540.7,269.3 541.0,269.3 541.2,269.2 C541.4,269.1 541.7,268.7 541.9,268.4 C542.1,268.0 542.4,267.5 542.6,267.0 C542.8,266.6 543.1,266.1 543.3,265.8 C543.5,265.5 543.8,265.3 544.0,265.3 C544.2,265.3 544.5,265.5 544.7,265.7 C544.9,266.0 545.2,266.4 545.4,266.9 C545.6,267.3 545.9,267.8 546.1,268.2 C546.3,268.6 546.6,268.9 546.8,269.1 C547.0,269.2 547.3,269.2 547.5,269.1 C547.7,269.0 548.0,268.6 548.2,268.3 C548.4,267.9 548.7,267.4 548.9,266.9 C549.1,266.5 549.4,266.0 549.6,265.8 C549.8,265.5 550.1,265.3 550.3,265.3 C550.5,265.3 550.8,265.5 551.0,265.7 C551.2,266.0 551.5,266.5 551.7,266.9 C551.9,267.3 552.2,267.9 552.4,268.2 C552.6,268.6 552.9,269.0 553.1,269.1 C553.3,269.2 553.6,269.2 553.8,269.1 C554.0,268.9 554.3,268.6 554.5,268.2 C554.7,267.8 555.0,267.3 555.2,266.9 C555.4,266.4 555.7,265.9 555.9,265.7 C556.1,265.4 556.3,265.2 556.6,265.2 C556.8,265.2 557.0,265.4 557.3,265.7 C557.5,265.9 557.7,266.4 558.0,266.9 C558.2,267.3 558.4,267.9 558.7,268.2 C558.9,268.6 559.1,269.0 559.4,269.2 C559.6,269.3 559.8,269.3 560.1,269.2 C560.3,269.0 560.5,268.7 560.8,268.3 C561.0,267.9 561.2,267.3 561.5,266.8 C561.7,266.4 561.9,265.9 562.2,265.6 C562.4,265.2 562.6,265.0 562.9,265.0 C563.1,265.0 563.3,265.1 563.6,265.4 C563.8,265.7 564.0,266.2 564.3,266.6 C564.5,267.1 564.7,267.7 565.0,268.1 C565.2,268.5 565.4,269.0 565.7,269.2 C565.9,269.3 566.1,269.4 566.4,269.3 C566.6,269.2 566.8,268.8 567.1,268.4 C567.3,268.0 567.5,267.4 567.8,266.9 C568.0,266.4 568.2,265.9 568.5,265.5 C568.7,265.1 568.9,264.8 569.2,264.7 C569.4,264.7 569.6,264.8 569.9,265.0 C570.1,265.3 570.3,265.8 570.6,266.2 C570.8,266.7 571.0,267.3 571.3,267.8 C571.5,268.3 571.7,268.8 572.0,269.0 C572.2,269.3 572.4,269.5 572.7,269.4 C572.9,269.4 573.1,269.1 573.4,268.7 C573.6,268.4 573.8,267.8 574.1,267.3 C574.3,266.8 574.5,266.1 574.8,265.7 C575.0,265.2 575.2,264.8 575.5,264.6 C575.7,264.4 575.9,264.4 576.2,264.6 C576.4,264.7 576.6,265.1 576.9,265.6 C577.1,266.0 577.3,266.6 577.6,267.2 C577.8,267.7 578.0,268.3 578.3,268.7 C578.5,269.0 578.7,269.4 579.0,269.4 C579.2,269.5 579.4,269.4 579.7,269.1 C579.9,268.9 580.1,268.4 580.3,267.9 C580.6,267.4 580.8,266.7 581.0,266.2 C581.3,265.7 581.5,265.1 581.7,264.8 C582.0,264.5 582.2,264.2 582.4,264.2 C582.7,264.2 582.9,264.5 583.1,264.8 C583.4,265.1 583.6,265.7 583.8,266.2 C584.1,266.7 584.3,267.4 584.5,267.9 C584.8,268.4 585.0,268.9 585.2,269.1 C585.5,269.4 585.7,269.5 585.9,269.4 C586.2,269.3 586.4,269.0 586.6,268.6 C586.9,268.2 587.1,267.6 587.3,267.1 C587.6,266.5 587.8,265.9 588.0,265.4 C588.3,265.0 588.5,264.5 588.7,264.3 C589.0,264.1 589.2,264.0 589.4,264.2 C589.7,264.3 589.9,264.7 590.1,265.1 C590.4,265.5 590.6,266.1 590.8,266.7 C591.1,267.2 591.3,267.8 591.5,268.2 C591.8,268.7 592.0,269.0 592.2,269.2 C592.5,269.4 592.7,269.3 592.9,269.2 C593.2,269.0 593.4,268.6 593.6,268.1 C593.9,267.7 594.1,267.1 594.3,266.5 C594.6,266.0 594.8,265.4 595.0,265.0 C595.3,264.6 595.5,264.2 595.7,264.1 C596.0,264.0 596.2,264.0 596.4,264.2 C596.7,264.4 596.9,264.9 597.1,265.3 C597.4,265.7 597.6,266.3 597.8,266.8 C598.1,267.3 598.3,267.9 598.5,268.3 C598.8,268.7 599.0,269.0 599.2,269.1 C599.5,269.2 599.7,269.1 599.9,268.9 C600.2,268.7 600.4,268.2 600.6,267.8 C600.9,267.4 601.1,266.7 601.3,266.3 C601.6,265.8 601.8,265.2 602.0,264.9 C602.3,264.5 602.5,264.2 602.7,264.1 C603.0,264.0 603.2,264.1 603.4,264.3 C603.7,264.5 603.9,264.9 604.1,265.3 C604.3,265.8 604.6,266.3 604.8,266.8 C605.0,267.3 605.3,267.8 605.5,268.1 C605.7,268.4 606.0,268.7 606.2,268.8 C606.4,268.9 606.7,268.8 606.9,268.6 C607.1,268.4 607.4,268.0 607.6,267.6 C607.8,267.2 608.1,266.6 608.3,266.2 C608.5,265.7 608.8,265.2 609.0,264.9 C609.2,264.5 609.5,264.3 609.7,264.2 C609.9,264.1 610.2,264.2 610.4,264.3 C610.6,264.5 610.9,264.9 611.1,265.3 C611.3,265.7 611.6,266.2 611.8,266.6 C612.0,267.0 612.3,267.5 612.5,267.8 C612.7,268.1 613.0,268.4 613.2,268.5 C613.4,268.6 613.7,268.5 613.9,268.3 C614.1,268.2 614.4,267.8 614.6,267.5 C614.8,267.1 615.1,266.6 615.3,266.2 C615.5,265.7 615.7,265.1 616.0,264.9 C616.3,264.8 616.8,265.4 617.0,265.5" stroke="#0000FF" stroke-width="1.95"/>
<path d="M67.0,190.5 C67.4,190.1 68.4,188.8 69.2,188.2 C70.0,187.6 70.9,187.8 72.0,187.0 C73.1,186.2 74.8,183.3 76.0,183.5 C77.2,183.7 77.9,188.3 79.0,188.2 C80.1,188.0 81.4,183.6 82.5,182.6 C83.6,181.6 84.7,183.3 85.5,182.2 C86.3,181.1 86.8,177.2 87.6,176.2 C88.3,175.2 89.2,176.4 90.0,176.0 C90.8,175.6 91.7,174.0 92.4,173.6 C93.1,173.2 93.4,174.3 94.0,173.8 C94.6,173.3 95.5,170.9 96.2,170.6 C96.9,170.3 97.5,171.3 98.4,171.9 C99.3,172.5 100.7,172.8 101.8,174.0 C102.9,175.2 104.4,178.2 105.3,178.8 C106.2,179.5 106.2,177.6 107.0,177.9 C107.8,178.2 109.2,181.3 110.4,180.9 C111.6,180.5 113.0,176.5 113.9,175.3 C114.8,174.2 115.1,174.1 115.7,174.0 C116.3,173.9 116.9,175.3 117.8,174.5 C118.7,173.7 120.2,169.2 121.2,168.9 C122.2,168.6 123.3,172.2 124.0,172.7 C124.7,173.2 125.1,172.5 125.5,172.2 C125.9,171.9 126.0,171.3 126.2,170.8 C126.4,170.4 126.7,169.9 126.9,169.6 C127.1,169.3 127.4,169.0 127.6,168.9 C127.8,168.9 128.1,169.0 128.3,169.2 C128.5,169.4 128.8,169.7 129.0,170.1 C129.2,170.5 129.5,170.9 129.7,171.3 C129.9,171.6 130.2,171.9 130.4,172.1 C130.6,172.2 130.9,172.3 131.1,172.1 C131.3,172.0 131.6,171.7 131.8,171.4 C132.0,171.0 132.3,170.5 132.5,170.1 C132.7,169.6 133.0,169.1 133.2,168.8 C133.4,168.4 133.7,168.2 133.9,168.1 C134.1,168.0 134.4,168.1 134.6,168.2 C134.8,168.4 135.1,168.8 135.3,169.1 C135.5,169.5 135.8,170.0 136.0,170.3 C136.2,170.7 136.5,171.0 136.7,171.2 C136.9,171.4 137.2,171.4 137.4,171.3 C137.6,171.2 137.9,170.9 138.1,170.6 C138.3,170.3 138.6,169.7 138.8,169.3 C139.0,168.8 139.3,168.3 139.5,167.9 C139.7,167.6 140.0,167.3 140.2,167.2 C140.4,167.0 140.7,167.1 140.9,167.2 C141.1,167.4 141.4,167.8 141.6,168.1 C141.8,168.5 142.1,169.0 142.3,169.4 C142.5,169.7 142.8,170.2 143.0,170.4 C143.2,170.6 143.5,170.7 143.7,170.6 C143.9,170.5 144.2,170.2 144.4,169.8 C144.6,169.5 144.9,168.9 145.1,168.5 C145.3,168.0 145.6,167.4 145.8,167.0 C146.0,166.6 146.3,166.3 146.5,166.1 C146.7,166.0 147.0,166.0 147.2,166.2 C147.4,166.4 147.7,166.7 147.9,167.1 C148.1,167.5 148.4,168.1 148.6,168.5 C148.8,168.9 149.1,169.3 149.3,169.6 C149.5,169.8 149.8,169.9 150.0,169.8 C150.2,169.7 150.5,169.4 150.7,169.0 C150.9,168.7 151.2,168.0 151.4,167.5 C151.6,167.0 151.9,166.4 152.1,166.0 C152.3,165.6 152.6,165.2 152.8,165.1 C153.0,164.9 153.3,165.0 153.5,165.2 C153.7,165.4 154.0,165.8 154.2,166.2 C154.4,166.7 154.7,167.3 154.9,167.7 C155.1,168.2 155.4,168.6 155.6,168.9 C155.8,169.1 156.1,169.2 156.3,169.0 C156.5,168.9 156.8,168.5 157.0,168.1 C157.2,167.7 157.5,167.0 157.7,166.4 C157.9,165.9 158.2,165.2 158.4,164.8 C158.6,164.4 158.9,164.0 159.1,164.0 C159.3,163.9 159.6,164.0 159.8,164.3 C160.0,164.5 160.3,165.1 160.5,165.6 C160.7,166.0 161.0,166.7 161.2,167.1 C161.4,167.6 161.7,168.0 161.9,168.2 C162.1,168.4 162.4,168.4 162.6,168.1 C162.8,167.9 163.1,167.4 163.3,166.9 C163.5,166.4 163.8,165.7 164.0,165.1 C164.2,164.5 164.5,163.9 164.7,163.5 C164.9,163.2 165.2,162.9 165.4,163.0 C165.6,163.0 165.9,163.3 166.1,163.6 C166.3,164.0 166.6,164.7 166.8,165.2 C167.0,165.7 167.3,166.4 167.5,166.8 C167.7,167.2 168.0,167.5 168.2,167.6 C168.4,167.7 168.7,167.5 168.9,167.1 C169.1,166.8 169.4,166.1 169.6,165.6 C169.8,165.0 170.1,164.2 170.3,163.7 C170.5,163.1 170.8,162.6 171.0,162.4 C171.2,162.2 171.5,162.2 171.7,162.3 C171.9,162.5 172.2,163.0 172.4,163.5 C172.6,164.0 172.9,164.7 173.1,165.2 C173.3,165.8 173.6,166.3 173.8,166.6 C174.0,166.9 174.3,167.0 174.5,166.8 C174.7,166.7 175.0,166.2 175.2,165.7 C175.4,165.2 175.7,164.5 175.9,163.9 C176.1,163.3 176.4,162.6 176.6,162.2 C176.8,161.8 177.1,161.5 177.3,161.5 C177.5,161.5 177.8,161.8 178.0,162.2 C178.2,162.6 178.5,163.2 178.7,163.8 C178.9,164.3 179.2,165.0 179.4,165.4 C179.6,165.8 179.9,166.1 180.1,166.1 C180.3,166.2 180.6,165.9 180.8,165.5 C181.0,165.2 181.3,164.5 181.5,163.9 C181.7,163.3 182.0,162.6 182.2,162.1 C182.4,161.6 182.7,161.1 182.9,161.0 C183.1,160.8 183.4,160.9 183.6,161.2 C183.8,161.5 184.1,162.0 184.3,162.5 C184.5,163.0 184.8,163.8 185.0,164.2 C185.2,164.7 185.5,165.1 185.7,165.2 C185.9,165.4 186.2,165.3 186.4,165.0 C186.6,164.8 186.9,164.2 187.1,163.7 C187.3,163.1 187.6,162.4 187.8,161.9 C188.0,161.3 188.3,160.8 188.5,160.6 C188.7,160.3 189.0,160.3 189.2,160.5 C189.4,160.6 189.7,161.1 189.9,161.6 C190.1,162.0 190.4,162.7 190.6,163.2 C190.8,163.6 191.1,164.1 191.3,164.3 C191.5,164.5 191.8,164.5 192.0,164.4 C192.2,164.2 192.5,163.7 192.7,163.2 C192.9,162.7 193.2,162.0 193.4,161.5 C193.6,161.0 193.9,160.4 194.1,160.1 C194.3,159.9 194.6,159.8 194.8,159.9 C195.0,160.0 195.3,160.3 195.5,160.7 C195.7,161.1 196.0,161.8 196.2,162.2 C196.4,162.7 196.7,163.2 196.9,163.4 C197.1,163.7 197.4,163.7 197.6,163.6 C197.8,163.5 198.1,163.1 198.3,162.6 C198.5,162.2 198.7,161.4 199.0,161.0 C199.3,160.6 199.3,159.8 200.0,160.3 C200.7,160.8 202.2,162.3 203.4,163.8 C204.6,165.3 205.9,167.2 206.9,169.5 C207.9,171.8 208.2,175.6 209.2,177.5 C210.1,179.4 211.6,179.6 212.6,180.9 C213.6,182.2 214.1,183.6 214.9,185.5 C215.7,187.4 216.2,191.1 217.2,192.4 C218.1,193.8 219.6,192.8 220.6,193.6 C221.6,194.4 222.1,195.3 222.9,197.0 C223.7,198.7 224.6,200.5 225.2,203.9 C225.8,207.3 225.8,211.4 226.6,217.3 C227.4,223.2 228.7,233.7 229.9,239.6 C231.1,245.5 232.9,249.1 234.0,253.0 C235.1,256.9 235.3,264.5 236.3,263.0 C237.3,261.5 238.9,250.5 239.9,244.0 C240.9,237.5 241.2,229.9 242.1,224.0 C243.0,218.1 244.5,212.7 245.4,208.4 C246.3,204.1 246.8,201.6 247.5,198.0 C248.2,194.4 248.7,186.7 249.3,186.7 C249.9,186.7 250.2,197.7 251.0,198.1 C251.8,198.5 253.0,191.4 253.9,189.0 C254.8,186.6 255.5,184.0 256.2,183.8 C256.9,183.6 257.2,188.6 257.9,187.8 C258.6,187.0 259.4,181.0 260.2,179.2 C261.0,177.4 261.8,176.2 262.5,176.9 C263.2,177.6 263.5,181.2 264.2,183.2 C264.9,185.2 265.4,188.5 266.5,189.0 C267.6,189.5 269.4,185.7 270.9,186.0 C272.4,186.3 273.9,190.0 275.4,190.6 C276.9,191.2 278.3,188.1 279.8,189.7 C281.3,191.3 282.9,199.6 284.3,200.1 C285.7,200.6 286.8,194.3 288.0,192.7 C289.2,191.1 290.6,190.9 291.8,190.4 C293.1,189.9 294.1,190.8 295.5,189.7 C296.9,188.6 298.6,183.8 300.0,183.7 C301.4,183.6 302.3,188.7 303.7,188.9 C305.1,189.2 306.4,183.7 308.1,185.2 C309.8,186.7 312.4,197.2 314.1,197.9 C315.9,198.7 317.4,192.1 318.6,189.7 C319.9,187.3 320.4,184.3 321.6,183.7 C322.8,183.1 324.6,186.2 326.0,186.0 C327.4,185.8 328.4,182.0 329.7,182.2 C330.9,182.4 332.2,186.0 333.5,187.4 C334.8,188.8 336.0,190.8 337.2,190.4 C338.4,190.0 339.5,185.3 340.9,185.2 C342.3,185.1 343.9,189.8 345.4,189.7 C346.9,189.6 348.3,184.5 349.9,184.5 C351.5,184.5 353.5,190.1 355.0,189.9 C356.5,189.7 357.5,183.5 358.9,183.5 C360.3,183.5 361.9,190.1 363.2,189.9 C364.5,189.7 365.7,184.0 366.6,182.2 C367.5,180.3 367.9,178.7 368.8,178.8 C369.7,178.9 370.7,183.3 371.8,182.6 C372.9,181.9 374.6,175.5 375.6,174.5 C376.6,173.5 376.7,176.5 377.6,176.6 C378.5,176.7 380.3,174.7 381.2,175.3 C382.1,176.0 382.5,178.5 383.1,180.5 C383.8,182.5 384.5,185.4 385.1,187.4 C385.7,189.4 386.1,191.4 386.8,192.5 C387.5,193.6 388.3,193.0 389.4,194.2 C390.5,195.3 392.4,197.6 393.3,199.4 C394.2,201.2 394.1,203.9 394.6,205.0 C395.1,206.1 395.8,206.3 396.5,206.0 C397.2,205.7 398.0,202.5 398.9,203.0 C399.8,203.5 401.1,206.9 401.9,209.0 C402.7,211.1 402.5,213.9 403.6,215.8 C404.7,217.7 406.7,219.2 408.4,220.6 C410.1,222.0 412.0,223.0 414.0,224.1 C416.0,225.2 418.2,226.1 420.4,227.1 C422.6,228.1 425.8,228.9 427.4,230.1 C429.0,231.3 429.1,232.8 429.9,234.1 C430.6,235.4 430.8,236.9 431.9,238.1 C433.0,239.3 434.9,240.2 436.4,241.1 C437.9,242.0 439.4,242.0 440.8,243.6 C442.2,245.2 443.2,248.2 444.5,250.6 C445.8,253.0 447.0,255.9 448.4,258.0 C449.8,260.1 451.5,262.6 452.6,263.0 C453.7,263.4 454.2,262.8 454.9,260.6 C455.5,258.4 455.9,254.8 456.5,250.0 C457.1,245.2 457.8,238.4 458.5,232.0 C459.2,225.6 460.1,216.2 460.9,211.4 C461.7,206.6 462.5,205.7 463.5,203.0 C464.5,200.3 466.0,197.5 466.8,195.0 C467.6,192.5 467.9,190.2 468.5,188.0 C469.1,185.8 469.4,183.6 470.2,182.0 C471.0,180.4 472.4,178.6 473.2,178.4 C474.0,178.2 474.5,180.2 475.2,181.0 C475.9,181.8 476.5,182.6 477.2,183.4 C477.9,184.2 478.6,185.2 479.5,186.0 C480.4,186.8 481.4,188.5 482.3,188.5 C483.2,188.5 484.2,186.7 485.0,186.0 C485.8,185.3 486.4,184.0 487.3,184.4 C488.2,184.8 489.3,188.3 490.3,188.5 C491.3,188.7 492.4,185.3 493.4,185.4 C494.3,185.5 495.0,187.5 496.0,189.0 C497.0,190.5 498.2,194.2 499.4,194.5 C500.6,194.8 501.8,192.0 503.0,191.0 C504.2,190.0 505.2,189.9 506.5,188.5 C507.8,187.1 509.2,183.8 510.5,182.4 C511.8,181.0 512.6,180.8 514.0,180.0 C515.4,179.2 517.6,178.0 518.6,177.6 C519.6,177.2 519.6,177.9 520.0,177.8 C520.4,177.7 520.5,177.1 520.7,176.9 C520.9,176.7 521.2,176.6 521.4,176.6 C521.6,176.6 521.9,176.8 522.1,177.1 C522.3,177.3 522.6,177.7 522.8,178.1 C523.0,178.4 523.3,178.8 523.5,179.1 C523.7,179.4 524.0,179.7 524.2,179.8 C524.4,180.0 524.7,180.0 524.9,179.9 C525.1,179.8 525.4,179.5 525.6,179.2 C525.8,178.9 526.1,178.5 526.3,178.1 C526.5,177.7 526.8,177.2 527.0,176.8 C527.2,176.5 527.5,176.1 527.7,175.9 C527.9,175.7 528.2,175.6 528.4,175.6 C528.6,175.7 528.9,175.8 529.1,176.1 C529.3,176.3 529.6,176.6 529.8,176.9 C530.0,177.3 530.3,177.6 530.5,177.9 C530.7,178.2 531.0,178.5 531.2,178.6 C531.4,178.7 531.7,178.7 531.9,178.6 C532.1,178.5 532.4,178.3 532.6,178.0 C532.9,177.7 533.1,177.3 533.3,176.9 C533.6,176.6 533.8,176.1 534.0,175.8 C534.3,175.4 534.5,175.1 534.7,174.9 C535.0,174.7 535.2,174.7 535.4,174.7 C535.7,174.7 535.9,174.9 536.1,175.1 C536.4,175.3 536.6,175.6 536.8,175.9 C537.1,176.2 537.3,176.6 537.5,176.8 C537.8,177.1 538.0,177.3 538.2,177.4 C538.5,177.5 538.7,177.5 538.9,177.4 C539.2,177.3 539.4,177.1 539.6,176.8 C539.9,176.5 540.1,176.1 540.3,175.7 C540.6,175.4 540.8,174.9 541.0,174.6 C541.3,174.3 541.5,174.0 541.7,173.8 C542.0,173.7 542.2,173.6 542.4,173.7 C542.7,173.7 542.9,173.9 543.1,174.1 C543.4,174.3 543.6,174.7 543.8,175.0 C544.1,175.2 544.3,175.6 544.5,175.8 C544.8,176.1 545.0,176.3 545.2,176.3 C545.5,176.4 545.7,176.4 545.9,176.2 C546.2,176.1 546.4,175.8 546.6,175.5 C546.9,175.2 547.1,174.8 547.3,174.4 C547.6,174.0 547.8,173.6 548.0,173.3 C548.3,173.0 548.5,172.8 548.7,172.7 C549.0,172.6 549.2,172.6 549.4,172.7 C549.7,172.8 549.9,173.0 550.1,173.3 C550.4,173.5 550.6,173.9 550.8,174.2 C551.1,174.5 551.3,174.8 551.5,175.0 C551.8,175.2 552.0,175.3 552.2,175.3 C552.5,175.3 552.7,175.2 552.9,175.0 C553.2,174.8 553.4,174.4 553.6,174.1 C553.9,173.7 554.1,173.2 554.3,172.9 C554.6,172.5 554.8,172.1 555.0,171.9 C555.3,171.6 555.5,171.5 555.7,171.4 C556.0,171.4 556.2,171.6 556.4,171.7 C556.7,171.9 556.9,172.3 557.1,172.6 C557.4,172.9 557.6,173.3 557.9,173.6 C558.1,173.9 558.3,174.2 558.6,174.3 C558.8,174.4 559.0,174.4 559.3,174.3 C559.5,174.2 559.7,173.9 560.0,173.6 C560.2,173.3 560.4,172.8 560.7,172.4 C560.9,172.0 561.1,171.5 561.4,171.1 C561.6,170.8 561.8,170.5 562.1,170.4 C562.3,170.3 562.5,170.3 562.8,170.4 C563.0,170.5 563.2,170.8 563.5,171.1 C563.7,171.4 563.9,171.9 564.2,172.2 C564.4,172.5 564.6,172.9 564.9,173.1 C565.1,173.3 565.3,173.4 565.6,173.4 C565.8,173.3 566.0,173.1 566.3,172.8 C566.5,172.5 566.7,172.0 567.0,171.6 C567.2,171.2 567.4,170.6 567.7,170.2 C567.9,169.8 568.1,169.4 568.4,169.1 C568.6,168.9 568.8,168.8 569.1,168.9 C569.3,169.0 569.5,169.2 569.8,169.5 C570.0,169.8 570.2,170.3 570.5,170.7 C570.7,171.1 570.9,171.5 571.2,171.8 C571.4,172.1 571.6,172.3 571.9,172.3 C572.1,172.3 572.3,172.1 572.6,171.8 C572.8,171.5 573.0,171.1 573.3,170.6 C573.5,170.1 573.7,169.5 574.0,169.1 C574.2,168.6 574.4,168.1 574.7,167.9 C574.9,167.6 575.1,167.5 575.4,167.5 C575.6,167.5 575.8,167.8 576.1,168.1 C576.3,168.4 576.5,168.9 576.8,169.3 C577.0,169.7 577.2,170.2 577.5,170.5 C577.7,170.8 577.9,171.1 578.2,171.1 C578.4,171.1 578.6,171.0 578.9,170.8 C579.1,170.5 579.3,170.0 579.6,169.5 C579.8,169.1 580.0,168.4 580.3,168.0 C580.5,167.5 580.7,167.0 581.0,166.8 C581.2,166.5 581.4,166.4 581.7,166.4 C581.9,166.5 582.1,166.8 582.4,167.1 C582.6,167.5 582.9,168.0 583.1,168.5 C583.3,168.9 583.6,169.4 583.8,169.8 C584.0,170.1 584.3,170.4 584.5,170.4 C584.7,170.4 585.0,170.3 585.2,170.0 C585.4,169.7 585.7,169.2 585.9,168.7 C586.1,168.3 586.4,167.6 586.6,167.1 C586.8,166.7 587.1,166.2 587.3,166.0 C587.5,165.7 587.8,165.6 588.0,165.7 C588.2,165.8 588.5,166.1 588.7,166.4 C588.9,166.8 589.2,167.3 589.4,167.8 C589.6,168.2 589.9,168.8 590.1,169.1 C590.3,169.4 590.6,169.6 590.8,169.6 C591.0,169.6 591.3,169.5 591.5,169.2 C591.7,168.9 592.0,168.3 592.2,167.9 C592.4,167.4 592.7,166.7 592.9,166.3 C593.1,165.8 593.4,165.4 593.6,165.2 C593.8,165.0 594.1,164.9 594.3,165.0 C594.5,165.1 594.7,165.7 595.0,165.8 C595.3,165.9 595.8,164.6 596.3,165.7 C596.8,166.8 597.4,170.5 598.3,172.3 C599.1,174.1 600.5,173.9 601.4,176.4 C602.2,178.9 602.4,185.8 603.4,187.5 C604.4,189.2 606.2,184.4 607.4,186.4 C608.6,188.4 609.3,196.9 610.5,199.6 C611.7,202.3 613.4,202.3 614.5,202.6 C615.6,202.9 616.6,201.8 617.0,201.6" stroke="#FF0000" stroke-width="2.25"/>
<path d="M67.4,191.7 C68.0,192.6 69.7,197.8 70.9,197.2 C72.1,196.5 73.5,187.9 74.7,187.8 C75.9,187.7 76.9,196.8 78.2,196.8 C79.5,196.8 81.4,188.2 82.5,187.8 C83.6,187.4 83.5,195.3 84.6,194.2 C85.7,193.1 87.6,182.4 88.9,181.3 C90.2,180.2 91.3,188.4 92.4,187.8 C93.5,187.2 94.4,178.1 95.4,177.9 C96.4,177.7 97.6,186.2 98.4,186.5 C99.2,186.8 99.2,179.2 100.1,179.6 C101.0,180.0 102.4,188.7 103.6,189.1 C104.8,189.5 105.9,181.7 107.0,182.2 C108.1,182.7 109.2,192.5 110.4,192.1 C111.6,191.7 112.8,180.5 113.9,180.0 C115.0,179.5 115.8,189.8 116.9,189.0 C118.0,188.2 119.2,176.0 120.3,175.3 C121.4,174.6 122.5,183.3 123.3,184.8 C124.1,186.3 124.6,184.8 125.0,184.4 C125.4,184.0 125.5,183.3 125.7,182.5 C125.9,181.7 126.2,180.5 126.4,179.6 C126.6,178.7 126.9,177.7 127.1,177.1 C127.3,176.5 127.6,176.1 127.8,176.1 C128.0,176.1 128.3,176.6 128.5,177.1 C128.7,177.7 129.0,178.8 129.2,179.6 C129.4,180.5 129.7,181.6 129.9,182.4 C130.1,183.1 130.4,183.7 130.6,183.9 C130.8,184.1 131.1,183.9 131.3,183.4 C131.5,182.9 131.7,182.0 132.0,181.0 C132.2,180.1 132.4,178.8 132.7,177.9 C132.9,176.9 133.1,175.9 133.4,175.4 C133.6,174.9 133.8,174.7 134.1,174.8 C134.3,175.0 134.5,175.7 134.8,176.4 C135.0,177.2 135.2,178.4 135.5,179.4 C135.7,180.3 135.9,181.5 136.2,182.1 C136.4,182.8 136.6,183.2 136.9,183.2 C137.1,183.2 137.3,182.7 137.6,182.0 C137.8,181.3 138.0,180.1 138.3,179.0 C138.5,178.0 138.7,176.6 139.0,175.7 C139.2,174.8 139.4,173.9 139.7,173.6 C139.9,173.3 140.1,173.4 140.4,173.9 C140.6,174.4 140.8,175.4 141.1,176.4 C141.3,177.3 141.5,178.7 141.8,179.7 C142.0,180.7 142.2,181.7 142.5,182.1 C142.7,182.6 142.9,182.7 143.2,182.3 C143.4,182.0 143.6,181.0 143.8,180.1 C144.1,179.1 144.3,177.6 144.5,176.5 C144.8,175.4 145.0,174.1 145.2,173.4 C145.5,172.7 145.7,172.3 145.9,172.4 C146.2,172.5 146.4,173.2 146.6,174.0 C146.9,174.8 147.1,176.2 147.3,177.3 C147.6,178.4 147.8,179.8 148.0,180.6 C148.3,181.3 148.5,181.9 148.7,181.9 C149.0,182.0 149.2,181.4 149.4,180.6 C149.7,179.8 149.9,178.4 150.1,177.3 C150.4,176.1 150.6,174.5 150.8,173.6 C151.1,172.7 151.3,171.8 151.5,171.6 C151.8,171.4 152.0,171.7 152.2,172.3 C152.5,172.9 152.7,174.2 152.9,175.3 C153.2,176.4 153.4,177.9 153.6,178.9 C153.9,179.8 154.1,180.8 154.3,181.1 C154.6,181.4 154.8,181.2 155.0,180.6 C155.3,180.0 155.5,178.8 155.7,177.6 C155.9,176.5 156.2,174.9 156.4,173.8 C156.6,172.7 156.9,171.6 157.1,171.1 C157.3,170.7 157.6,170.7 157.8,171.1 C158.0,171.5 158.3,172.6 158.5,173.6 C158.7,174.6 159.0,176.2 159.2,177.3 C159.4,178.3 159.7,179.5 159.9,179.9 C160.1,180.4 160.4,180.5 160.6,180.1 C160.8,179.7 161.1,178.7 161.3,177.6 C161.5,176.6 161.8,174.9 162.0,173.8 C162.2,172.7 162.5,171.4 162.7,170.8 C162.9,170.2 163.2,170.0 163.4,170.3 C163.6,170.5 163.9,171.4 164.1,172.4 C164.3,173.3 164.6,174.8 164.8,175.9 C165.0,177.0 165.3,178.2 165.5,178.8 C165.7,179.3 166.0,179.6 166.2,179.3 C166.4,179.1 166.7,178.2 166.9,177.2 C167.1,176.2 167.4,174.7 167.6,173.6 C167.8,172.5 168.1,171.2 168.3,170.5 C168.5,169.8 168.7,169.5 169.0,169.6 C169.2,169.8 169.4,170.6 169.7,171.4 C169.9,172.2 170.1,173.7 170.4,174.7 C170.6,175.7 170.8,177.0 171.1,177.6 C171.3,178.2 171.5,178.5 171.8,178.4 C172.0,178.2 172.2,177.4 172.5,176.6 C172.7,175.7 172.9,174.3 173.2,173.2 C173.4,172.1 173.6,170.8 173.9,170.1 C174.1,169.5 174.3,169.0 174.6,169.1 C174.8,169.2 175.0,169.8 175.3,170.6 C175.5,171.3 175.7,172.6 176.0,173.6 C176.2,174.6 176.4,175.8 176.7,176.4 C176.9,177.0 177.1,177.4 177.4,177.3 C177.6,177.2 177.8,176.6 178.1,175.8 C178.3,175.0 178.5,173.7 178.8,172.7 C179.0,171.7 179.2,170.5 179.5,169.8 C179.7,169.1 179.9,168.6 180.2,168.6 C180.4,168.6 180.6,169.1 180.8,169.8 C181.1,170.5 181.3,171.7 181.5,172.6 C181.8,173.5 182.0,174.6 182.2,175.3 C182.5,175.9 182.7,176.4 182.9,176.3 C183.2,176.3 183.4,175.8 183.6,175.1 C183.9,174.4 184.1,173.2 184.3,172.3 C184.6,171.3 184.8,170.1 185.0,169.4 C185.3,168.7 185.5,168.1 185.7,168.1 C186.0,168.0 186.2,168.4 186.4,168.9 C186.7,169.5 186.9,170.6 187.1,171.4 C187.4,172.3 187.6,173.4 187.8,174.1 C188.1,174.8 188.3,175.3 188.5,175.4 C188.8,175.4 189.0,175.1 189.2,174.5 C189.5,173.9 189.7,172.8 189.9,171.9 C190.2,171.0 190.4,169.8 190.6,169.1 C190.9,168.3 191.1,167.7 191.3,167.5 C191.6,167.3 191.8,167.5 192.0,168.0 C192.3,168.4 192.5,169.4 192.7,170.2 C192.9,171.0 193.2,172.1 193.4,172.8 C193.6,173.5 193.9,174.2 194.1,174.4 C194.3,174.6 194.6,174.4 194.8,174.0 C195.0,173.6 195.3,172.6 195.5,171.8 C195.7,170.9 196.0,169.7 196.2,168.9 C196.4,168.1 196.7,167.3 196.9,166.9 C197.1,166.6 197.4,166.6 197.6,166.9 C197.8,167.1 198.1,167.9 198.3,168.7 C198.5,169.4 198.7,170.6 199.0,171.3 C199.3,172.1 199.3,173.8 200.0,172.9 C200.7,172.0 202.2,164.8 203.4,166.0 C204.6,167.2 205.8,178.8 206.9,180.4 C208.1,182.0 209.2,174.4 210.3,175.8 C211.5,177.2 212.9,186.1 213.8,189.0 C214.8,191.9 215.2,193.1 216.0,193.0 C216.8,192.9 217.9,187.6 218.9,188.4 C219.9,189.2 220.9,195.5 221.8,198.1 C222.7,200.7 223.7,201.1 224.2,203.9 C224.7,206.7 224.6,210.3 225.0,215.0 C225.4,219.7 225.8,227.0 226.5,232.0 C227.2,237.0 228.1,241.0 229.0,245.0 C229.9,249.0 230.9,253.2 232.0,256.0 C233.1,258.8 234.3,264.6 235.4,261.9 C236.5,259.2 237.6,248.5 238.7,239.6 C239.8,230.7 241.2,208.8 242.1,208.4 C243.0,208.0 243.5,239.0 244.3,237.4 C245.2,235.8 246.1,200.9 247.2,199.0 C248.3,197.1 249.9,227.0 251.0,226.2 C252.1,225.4 253.1,196.8 253.9,194.1 C254.7,191.4 254.9,210.3 256.0,209.8 C257.1,209.3 259.0,192.1 260.5,191.2 C262.0,190.3 263.5,203.5 265.0,204.6 C266.5,205.7 268.0,197.7 269.4,197.9 C270.8,198.2 271.7,206.2 273.1,206.1 C274.5,206.0 275.9,196.1 277.6,197.1 C279.4,198.1 281.9,211.1 283.6,212.0 C285.3,212.9 286.5,203.3 288.0,202.3 C289.5,201.3 290.9,207.2 292.5,206.1 C294.1,205.0 296.0,196.0 297.7,195.6 C299.4,195.2 301.3,203.9 302.9,203.8 C304.5,203.7 306.0,195.2 307.4,194.9 C308.8,194.6 310.1,199.8 311.5,202.0 C312.9,204.2 313.9,210.0 315.6,208.3 C317.3,206.6 319.9,193.1 321.6,191.9 C323.3,190.7 324.6,200.9 326.0,200.9 C327.4,200.9 328.2,191.7 329.7,191.9 C331.2,192.1 333.2,201.8 335.0,202.3 C336.8,202.8 338.6,194.8 340.2,194.9 C341.8,195.0 343.1,203.3 344.6,203.1 C346.1,202.8 347.6,193.5 349.1,193.4 C350.6,193.3 352.0,202.4 353.6,202.3 C355.2,202.2 357.4,192.8 358.8,192.7 C360.2,192.6 361.2,202.0 362.3,202.0 C363.4,202.0 364.4,195.4 365.3,192.5 C366.2,189.6 367.0,184.9 367.9,184.8 C368.8,184.7 369.4,192.3 370.5,191.7 C371.6,191.1 373.1,181.8 374.3,181.3 C375.5,180.8 376.7,188.8 377.8,188.6 C378.9,188.4 380.0,180.3 380.8,180.0 C381.6,179.7 381.9,184.5 382.5,187.0 C383.1,189.5 383.3,194.5 384.2,195.1 C385.1,195.7 386.4,190.8 387.7,190.8 C389.0,190.8 391.0,193.1 392.0,195.1 C393.0,197.1 393.1,201.1 393.7,202.8 C394.3,204.5 394.9,205.7 395.8,205.3 C396.7,205.0 397.9,200.1 398.9,200.7 C399.9,201.3 401.0,206.6 401.9,209.0 C402.8,211.4 402.9,213.3 404.1,215.0 C405.3,216.7 407.2,217.8 409.0,219.0 C410.8,220.2 412.6,221.4 414.6,222.5 C416.6,223.6 418.8,224.5 421.0,225.5 C423.2,226.5 426.4,227.2 428.0,228.4 C429.6,229.7 429.8,231.6 430.5,233.0 C431.2,234.4 431.4,235.5 432.5,236.6 C433.6,237.7 435.5,238.6 437.0,239.5 C438.5,240.4 440.0,240.2 441.4,241.8 C442.8,243.4 443.8,246.8 445.1,249.3 C446.4,251.8 447.7,254.8 449.0,257.0 C450.3,259.2 452.2,261.7 453.1,262.3 C454.0,262.9 453.9,263.6 454.2,260.6 C454.5,257.6 454.5,248.3 454.9,244.2 C455.3,240.1 455.9,239.0 456.5,236.0 C457.1,233.0 457.9,228.9 458.6,226.3 C459.3,223.7 460.1,220.3 460.9,220.3 C461.6,220.3 462.5,228.0 463.1,226.3 C463.7,224.6 463.7,212.9 464.6,209.9 C465.5,206.9 467.4,209.7 468.3,208.4 C469.2,207.2 469.2,204.2 469.8,202.4 C470.4,200.6 471.3,198.3 472.0,197.5 C472.7,196.7 473.5,197.5 474.2,197.5 C474.9,197.5 475.2,196.3 476.2,197.5 C477.2,198.7 478.9,204.6 480.3,204.6 C481.7,204.6 483.0,197.7 484.3,197.5 C485.6,197.3 486.8,203.9 488.3,203.6 C489.8,203.3 491.9,195.2 493.4,195.5 C494.9,195.8 495.9,205.1 497.4,205.6 C498.9,206.1 501.1,199.2 502.5,198.5 C503.9,197.8 504.3,203.1 505.5,201.6 C506.7,200.1 508.6,191.8 509.5,189.5 C510.4,187.2 510.6,187.6 511.0,187.5 C511.4,187.4 511.5,188.3 511.7,188.9 C511.9,189.5 512.2,190.4 512.4,191.1 C512.6,191.7 512.9,192.5 513.1,192.8 C513.3,193.2 513.6,193.4 513.8,193.3 C514.0,193.2 514.3,192.7 514.5,192.1 C514.7,191.5 515.0,190.5 515.2,189.6 C515.4,188.7 515.7,187.6 515.9,186.8 C516.1,186.0 516.4,185.2 516.6,184.9 C516.8,184.5 517.1,184.4 517.3,184.5 C517.5,184.7 517.8,185.3 518.0,185.8 C518.2,186.4 518.5,187.4 518.7,188.1 C518.9,188.8 519.2,189.7 519.4,190.2 C519.6,190.7 519.9,191.1 520.1,191.0 C520.3,191.0 520.6,190.6 520.8,190.1 C521.0,189.5 521.3,188.5 521.5,187.7 C521.7,186.8 522.0,185.7 522.2,184.9 C522.4,184.1 522.7,183.3 522.9,182.9 C523.1,182.6 523.4,182.5 523.6,182.7 C523.8,182.9 524.1,183.5 524.3,184.2 C524.5,184.9 524.8,186.0 525.0,186.8 C525.2,187.6 525.4,188.6 525.7,189.1 C525.9,189.6 526.1,190.0 526.4,190.0 C526.6,190.0 526.8,189.6 527.1,189.0 C527.3,188.4 527.5,187.3 527.8,186.4 C528.0,185.4 528.2,184.2 528.5,183.4 C528.7,182.5 528.9,181.7 529.2,181.3 C529.4,181.0 529.6,180.9 529.9,181.1 C530.1,181.4 530.3,182.1 530.6,182.9 C530.8,183.6 531.0,184.8 531.3,185.7 C531.5,186.5 531.7,187.6 532.0,188.1 C532.2,188.7 532.4,189.1 532.7,189.0 C532.9,188.9 533.1,188.5 533.4,187.8 C533.6,187.1 533.8,186.0 534.1,185.0 C534.3,184.0 534.5,182.7 534.8,181.8 C535.0,180.9 535.2,180.0 535.5,179.7 C535.7,179.3 535.9,179.3 536.2,179.6 C536.4,179.9 536.6,180.8 536.9,181.6 C537.1,182.4 537.3,183.7 537.6,184.6 C537.8,185.5 538.0,186.6 538.3,187.2 C538.5,187.7 538.7,188.1 539.0,188.0 C539.2,187.9 539.4,187.3 539.7,186.6 C539.9,185.8 540.1,184.6 540.4,183.5 C540.6,182.5 540.8,181.1 541.1,180.2 C541.3,179.3 541.5,178.5 541.8,178.2 C542.0,177.9 542.2,177.9 542.5,178.3 C542.7,178.7 542.9,179.6 543.2,180.5 C543.4,181.4 543.6,182.7 543.9,183.7 C544.1,184.7 544.3,185.8 544.6,186.4 C544.8,186.9 545.0,187.3 545.3,187.2 C545.5,187.1 545.7,186.5 546.0,185.8 C546.2,185.0 546.4,183.8 546.7,182.7 C546.9,181.6 547.1,180.3 547.4,179.4 C547.6,178.5 547.8,177.6 548.1,177.3 C548.3,176.9 548.5,177.0 548.8,177.3 C549.0,177.7 549.2,178.6 549.5,179.5 C549.7,180.4 549.9,181.8 550.2,182.8 C550.4,183.8 550.6,184.9 550.9,185.5 C551.1,186.1 551.3,186.5 551.6,186.5 C551.8,186.4 552.0,185.9 552.3,185.2 C552.5,184.5 552.7,183.3 553.0,182.2 C553.2,181.1 553.4,179.8 553.7,178.8 C553.9,177.9 554.1,177.0 554.3,176.6 C554.6,176.2 554.8,176.1 555.0,176.4 C555.3,176.7 555.5,177.5 555.7,178.4 C556.0,179.2 556.2,180.5 556.4,181.5 C556.7,182.5 556.9,183.6 557.1,184.3 C557.4,185.0 557.6,185.5 557.8,185.6 C558.1,185.6 558.3,185.3 558.5,184.7 C558.8,184.1 559.0,183.0 559.2,182.0 C559.5,181.0 559.7,179.7 559.9,178.8 C560.2,177.8 560.4,176.8 560.6,176.3 C560.9,175.8 561.1,175.5 561.3,175.6 C561.6,175.7 561.8,176.3 562.0,177.0 C562.3,177.7 562.5,178.8 562.7,179.8 C563.0,180.7 563.2,181.9 563.4,182.7 C563.7,183.4 563.9,184.1 564.1,184.4 C564.4,184.6 564.6,184.6 564.8,184.2 C565.1,183.8 565.3,183.0 565.5,182.2 C565.8,181.3 566.0,180.1 566.2,179.2 C566.5,178.2 566.7,177.1 566.9,176.4 C567.2,175.8 567.4,175.3 567.6,175.1 C567.9,175.0 568.1,175.3 568.3,175.7 C568.6,176.2 568.8,177.1 569.0,177.9 C569.3,178.7 569.5,179.8 569.7,180.6 C570.0,181.5 570.2,182.4 570.4,182.8 C570.7,183.3 570.9,183.6 571.1,183.5 C571.4,183.4 571.6,183.0 571.8,182.4 C572.1,181.8 572.3,180.8 572.5,179.9 C572.8,179.0 573.0,177.9 573.2,177.2 C573.5,176.4 573.7,175.6 573.9,175.2 C574.2,174.8 574.4,174.6 574.6,174.7 C574.9,174.9 575.1,175.4 575.3,176.0 C575.6,176.5 575.8,177.5 576.0,178.3 C576.3,179.1 576.5,180.0 576.7,180.7 C577.0,181.4 577.2,182.0 577.4,182.2 C577.7,182.5 577.9,182.5 578.1,182.2 C578.4,182.0 578.6,181.3 578.8,180.7 C579.1,180.0 579.3,179.0 579.5,178.2 C579.8,177.4 580.0,176.4 580.2,175.8 C580.5,175.1 580.7,174.6 580.9,174.3 C581.2,174.1 581.4,174.1 581.6,174.3 C581.9,174.6 582.1,175.2 582.3,175.8 C582.6,176.4 582.8,177.3 583.0,178.0 C583.2,178.7 583.5,179.6 583.7,180.1 C583.9,180.6 584.2,181.1 584.4,181.2 C584.6,181.3 584.9,181.2 585.1,180.9 C585.3,180.5 585.6,179.9 585.8,179.2 C586.0,178.5 586.3,177.6 586.5,176.8 C586.7,176.1 587.0,175.2 587.2,174.7 C587.4,174.1 587.7,173.6 587.9,173.4 C588.1,173.3 588.4,173.4 588.6,173.6 C588.8,173.9 589.1,174.5 589.3,175.1 C589.5,175.7 589.8,176.6 590.0,177.3 C590.2,177.9 590.5,178.7 590.7,179.2 C590.9,179.7 591.2,180.1 591.4,180.2 C591.6,180.3 591.9,180.1 592.1,179.8 C592.3,179.4 592.6,178.8 592.8,178.1 C593.0,177.4 593.3,176.5 593.5,175.8 C593.7,175.0 594.0,174.2 594.2,173.6 C594.4,173.1 594.7,172.6 594.9,172.5 C595.1,172.3 595.4,172.4 595.6,172.7 C595.8,173.0 596.1,173.5 596.3,174.1 C596.5,174.7 596.6,176.1 597.0,176.3 C597.4,176.5 597.9,175.5 598.5,175.5 C599.1,175.5 599.6,173.7 600.4,176.4 C601.2,179.1 602.4,189.8 603.4,191.5 C604.4,193.2 605.1,184.6 606.4,186.4 C607.6,188.2 609.5,200.4 610.9,202.6 C612.2,204.8 613.5,200.3 614.5,199.6 C615.5,198.9 616.6,198.7 617.0,198.5" stroke="#000080" stroke-width="2.25"/>
<path d="M67.0,179.8 C68.3,179.8 72.8,179.7 75.0,179.6 C77.2,179.5 78.2,179.4 80.2,179.0 C82.2,178.6 84.8,177.8 87.0,177.0 C89.2,176.2 91.1,175.0 93.3,174.3 C95.5,173.6 97.8,173.2 100.0,172.8 C102.2,172.4 103.3,172.0 106.4,171.7 C109.5,171.4 112.8,171.6 118.5,170.9 C124.2,170.2 133.0,168.6 140.7,167.3 C148.4,166.0 158.3,164.3 164.9,163.2 C171.5,162.1 175.8,161.4 180.0,160.8 C184.2,160.2 186.7,159.9 190.0,159.4 C193.3,158.9 197.1,158.4 200.0,158.0 C202.9,157.6 204.9,156.7 207.4,157.0 C209.9,157.3 211.9,158.5 214.9,159.7 C217.9,160.9 222.7,163.3 225.2,164.3 C227.7,165.3 227.9,165.1 229.8,165.5 C231.7,165.9 235.0,166.4 236.7,167.0 C238.4,167.6 238.6,167.7 240.1,168.9 C241.6,170.1 244.1,172.7 245.8,174.1 C247.5,175.5 248.7,176.5 250.4,177.5 C252.1,178.5 254.7,179.6 256.2,180.0 C257.7,180.4 258.4,180.1 259.5,179.8 C260.6,179.5 261.5,178.6 262.5,178.1 C263.5,177.6 263.9,176.8 265.3,176.7 C266.7,176.5 268.6,176.9 271.0,177.2 C273.4,177.5 275.4,178.0 280.0,178.7 C284.6,179.4 294.2,181.0 298.9,181.4 C303.6,181.8 305.3,181.3 308.0,181.2 C310.7,181.1 312.7,180.9 315.0,180.8 C317.3,180.7 319.5,181.1 322.0,180.6 C324.5,180.1 327.0,178.5 330.0,178.0 C333.0,177.5 333.9,177.5 340.0,177.6 C346.1,177.7 360.4,178.8 366.4,178.4 C372.4,178.1 373.0,176.6 376.0,175.5 C379.0,174.4 382.4,172.0 384.6,171.7 C386.8,171.4 387.3,172.7 389.0,173.5 C390.7,174.3 392.3,175.3 394.6,176.4 C396.9,177.5 399.0,178.5 402.7,180.0 C406.4,181.5 412.2,183.2 416.8,185.4 C421.4,187.6 426.0,190.6 430.0,193.0 C434.0,195.4 438.6,198.2 441.0,199.6 C443.4,201.0 442.4,201.1 444.4,201.6 C446.4,202.1 450.6,201.9 453.1,202.5 C455.6,203.1 457.7,204.5 459.2,205.2 C460.7,205.9 461.0,206.9 462.1,206.6 C463.2,206.3 464.6,205.0 466.0,203.5 C467.4,202.0 468.5,200.3 470.2,197.5 C471.9,194.7 474.7,188.7 476.2,186.4 C477.7,184.1 478.0,184.5 479.0,183.8 C480.0,183.1 479.8,182.7 482.3,182.4 C484.8,182.1 490.0,182.2 494.0,182.2 C498.0,182.2 502.4,183.0 506.5,182.4 C510.6,181.8 512.9,179.9 518.6,178.4 C524.3,176.9 533.4,174.8 540.8,173.3 C548.2,171.8 556.8,170.4 563.0,169.3 C569.2,168.2 573.8,167.5 578.2,166.9 C582.6,166.3 585.3,166.1 589.2,165.7 C593.1,165.3 598.1,164.2 601.4,164.3 C604.7,164.4 606.4,165.7 609.0,166.5 C611.6,167.3 615.7,168.8 617.0,169.3" stroke="#880088" stroke-width="2.3"/>
<path d="M67.0,164.9 C69.2,165.0 75.6,165.2 80.0,165.5 C84.4,165.8 89.1,166.6 93.3,166.7 C97.5,166.8 100.8,166.5 105.0,166.3 C109.2,166.1 114.3,166.2 118.5,165.7 C122.7,165.1 126.3,163.9 130.0,163.0 C133.7,162.1 137.0,161.0 140.7,160.2 C144.4,159.4 148.0,158.9 152.0,158.2 C156.0,157.5 160.2,156.8 164.9,156.2 C169.6,155.6 175.8,155.1 180.0,154.8 C184.2,154.5 186.3,154.6 190.0,154.2 C193.7,153.8 197.9,152.4 202.1,152.1 C206.3,151.8 210.3,152.2 215.0,152.4 C219.7,152.6 223.1,152.7 230.0,153.0 C236.9,153.3 248.3,154.0 256.6,154.4 C264.9,154.8 267.9,154.7 280.0,155.2 C292.1,155.7 309.0,156.2 329.0,157.2 C349.0,158.2 379.8,160.0 400.0,161.2 C420.2,162.4 430.2,163.2 450.0,164.3 C469.8,165.4 506.3,167.0 518.6,167.9 C530.9,168.8 521.7,169.5 523.6,169.7 C525.5,169.9 527.1,169.4 530.0,169.0 C532.9,168.6 537.1,168.0 540.8,167.3 C544.5,166.6 548.3,165.8 552.0,165.0 C555.7,164.2 558.6,163.4 563.0,162.8 C567.4,162.2 573.8,161.7 578.2,161.2 C582.6,160.7 586.0,160.0 589.2,159.6 C592.4,159.2 594.7,158.8 597.3,158.6 C599.9,158.4 601.7,158.5 605.0,158.6 C608.3,158.7 615.0,159.1 617.0,159.2" stroke="#AA0000" stroke-width="2.3"/>
<path d="M67.0,370.4 C67.4,370.4 68.5,370.3 69.2,370.4 C69.9,370.4 70.7,370.5 71.4,370.6 C72.1,370.6 72.9,370.9 73.6,370.9 C74.3,370.9 75.1,370.6 75.8,370.6 C76.5,370.6 77.3,370.9 78.0,371.1 C78.7,371.2 79.5,371.3 80.2,371.3 C80.9,371.3 81.7,371.0 82.4,371.0 C83.1,370.9 83.9,371.0 84.6,371.0 C85.3,371.0 86.1,371.0 86.8,371.1 C87.5,371.2 88.3,371.2 89.0,371.3 C89.7,371.4 90.5,371.4 91.2,371.4 C91.9,371.4 92.7,371.4 93.4,371.4 C94.1,371.4 94.9,371.5 95.6,371.4 C96.3,371.4 97.1,371.2 97.8,371.1 C98.5,371.1 99.3,371.2 100.0,371.2 C100.7,371.3 101.5,371.3 102.2,371.4 C102.9,371.4 103.7,371.7 104.4,371.8 C105.1,371.8 105.9,371.5 106.6,371.5 C107.3,371.5 108.1,371.8 108.8,371.7 C109.5,371.7 110.3,371.5 111.0,371.4 C111.7,371.4 112.5,371.5 113.2,371.5 C113.9,371.6 114.7,371.6 115.4,371.7 C116.1,371.8 116.9,372.0 117.6,372.1 C118.3,372.1 119.1,372.1 119.8,372.1 C120.5,372.2 121.3,372.2 122.0,372.2 C122.7,372.2 123.5,372.0 124.2,372.0 C124.9,372.0 125.7,372.2 126.4,372.2 C127.1,372.3 127.9,372.2 128.6,372.3 C129.3,372.3 130.1,372.4 130.8,372.3 C131.5,372.3 132.3,372.1 133.0,372.2 C133.7,372.2 134.5,372.7 135.2,372.8 C135.9,372.8 136.7,372.3 137.4,372.4 C138.1,372.4 138.9,372.9 139.6,373.0 C140.3,373.1 141.1,373.1 141.8,373.0 C142.5,372.9 143.3,372.5 144.0,372.5 C144.7,372.4 145.5,372.7 146.2,372.8 C146.9,373.0 147.7,373.1 148.4,373.2 C149.1,373.3 149.9,373.4 150.6,373.4 C151.3,373.3 152.1,373.1 152.8,373.1 C153.5,373.0 154.3,373.0 155.0,373.0 C155.7,373.0 156.5,373.0 157.2,373.1 C157.9,373.2 158.7,373.7 159.4,373.7 C160.1,373.7 160.9,373.3 161.6,373.3 C162.3,373.2 163.1,373.6 163.8,373.6 C164.5,373.6 165.3,373.4 166.0,373.4 C166.7,373.4 167.5,373.6 168.2,373.7 C168.9,373.9 169.7,374.1 170.4,374.1 C171.1,374.1 171.9,373.6 172.6,373.6 C173.3,373.7 174.1,374.1 174.8,374.2 C175.5,374.3 176.3,374.0 177.0,374.1 C177.7,374.1 178.5,374.4 179.2,374.4 C179.9,374.5 180.7,374.5 181.4,374.4 C182.1,374.4 182.9,374.1 183.6,374.2 C184.3,374.3 185.1,374.7 185.8,374.8 C186.5,374.9 187.3,374.7 188.0,374.6 C188.7,374.6 189.5,374.4 190.2,374.4 C190.9,374.4 191.7,374.4 192.4,374.5 C193.1,374.6 193.9,374.9 194.6,375.0 C195.3,375.1 196.1,375.0 196.8,375.1 C197.5,375.1 198.3,375.1 199.0,375.1 C199.7,375.1 200.5,375.0 201.2,375.1 C201.9,375.1 202.7,375.3 203.4,375.3 C204.1,375.4 204.9,375.3 205.6,375.4 C206.3,375.5 207.1,375.9 207.8,375.9 C208.5,375.9 209.3,375.4 210.0,375.5 C210.7,375.5 211.5,376.0 212.2,376.1 C212.9,376.2 213.7,376.3 214.4,376.3 C215.1,376.3 215.9,375.9 216.6,375.9 C217.3,376.0 218.1,376.5 218.8,376.6 C219.5,376.7 220.3,376.6 221.0,376.6 C221.7,376.7 222.5,376.9 223.2,376.9 C223.9,376.9 224.7,376.6 225.4,376.6 C226.1,376.6 226.9,376.7 227.6,376.8 C228.3,376.8 229.1,376.8 229.8,376.9 C230.5,377.0 231.3,377.4 232.0,377.5 C232.7,377.5 233.5,377.3 234.2,377.3 C234.9,377.3 235.7,377.2 236.4,377.3 C237.1,377.3 237.9,377.4 238.6,377.4 C239.3,377.4 240.1,377.4 240.8,377.4 C241.5,377.4 242.3,377.3 243.0,377.3 C243.7,377.3 244.5,377.3 245.2,377.4 C245.9,377.6 246.7,378.0 247.4,378.0 C248.1,378.1 248.9,377.7 249.6,377.7 C250.3,377.7 251.1,378.1 251.8,378.0 C252.5,377.9 253.3,377.4 254.0,377.3 C254.7,377.1 255.5,377.1 256.2,377.0 C256.9,377.0 257.7,377.0 258.4,377.0 C259.1,376.9 259.9,376.6 260.6,376.5 C261.3,376.4 262.1,376.4 262.8,376.4 C263.5,376.4 264.3,376.5 265.0,376.5 C265.7,376.5 266.5,376.3 267.2,376.2 C267.9,376.1 268.7,376.0 269.4,375.9 C270.1,375.8 270.9,375.6 271.6,375.5 C272.3,375.5 273.1,375.5 273.8,375.5 C274.5,375.4 275.3,375.4 276.0,375.2 C276.7,375.1 277.5,374.8 278.2,374.7 C278.9,374.6 279.7,374.7 280.4,374.6 C281.1,374.4 281.9,374.0 282.6,373.9 C283.3,373.8 284.1,374.2 284.8,374.2 C285.5,374.2 286.3,373.9 287.0,373.8 C287.7,373.7 288.5,373.9 289.2,373.8 C289.9,373.8 290.7,373.7 291.4,373.6 C292.1,373.5 292.9,373.3 293.6,373.1 C294.3,373.0 295.1,372.8 295.8,372.8 C296.5,372.8 297.3,373.3 298.0,373.3 C298.7,373.2 299.5,372.7 300.2,372.6 C300.9,372.6 301.7,372.8 302.4,372.8 C303.1,372.8 303.9,372.7 304.6,372.7 C305.3,372.6 306.1,372.5 306.8,372.6 C307.5,372.6 308.3,372.7 309.0,372.8 C309.7,372.8 310.5,373.0 311.2,372.9 C311.9,372.8 312.7,372.4 313.4,372.4 C314.1,372.3 314.9,372.7 315.6,372.7 C316.3,372.8 317.1,372.6 317.8,372.6 C318.5,372.6 319.3,372.8 320.0,372.9 C320.7,372.9 321.5,372.9 322.2,372.9 C322.9,372.8 323.7,372.8 324.4,372.8 C325.1,372.8 325.9,372.9 326.6,372.9 C327.3,372.9 328.1,372.9 328.8,373.0 C329.5,373.2 330.3,373.6 331.0,373.6 C331.7,373.7 332.5,373.5 333.2,373.5 C333.9,373.4 334.7,373.3 335.4,373.4 C336.1,373.4 336.9,373.8 337.6,374.0 C338.3,374.1 339.1,374.1 339.8,374.1 C340.5,374.1 341.3,373.9 342.0,373.8 C342.7,373.8 343.5,373.8 344.2,373.7 C344.9,373.7 345.7,373.7 346.4,373.7 C347.1,373.6 347.9,373.5 348.6,373.5 C349.3,373.5 350.1,373.6 350.8,373.6 C351.5,373.5 352.3,373.3 353.0,373.3 C353.7,373.2 354.5,373.3 355.2,373.3 C355.9,373.2 356.7,373.2 357.4,373.2 C358.1,373.2 358.9,373.2 359.6,373.3 C360.3,373.3 361.1,373.4 361.8,373.4 C362.5,373.4 363.3,373.3 364.0,373.2 C364.7,373.2 365.5,373.0 366.2,372.9 C366.9,372.9 367.7,372.9 368.4,372.9 C369.1,372.9 369.9,372.9 370.6,372.9 C371.3,372.9 372.1,372.8 372.8,372.7 C373.5,372.7 374.3,372.7 375.0,372.6 C375.7,372.6 376.5,372.4 377.2,372.4 C377.9,372.3 378.7,372.4 379.4,372.4 C380.1,372.5 380.9,372.9 381.6,372.9 C382.3,372.8 383.1,372.3 383.8,372.3 C384.5,372.3 385.3,372.6 386.0,372.6 C386.7,372.7 387.5,372.8 388.2,372.8 C388.9,372.9 389.7,373.1 390.4,373.1 C391.1,373.1 391.9,372.7 392.6,372.7 C393.3,372.7 394.1,372.8 394.8,372.8 C395.5,372.9 396.3,372.9 397.0,372.9 C397.7,372.9 398.5,373.0 399.2,373.1 C399.9,373.2 400.7,373.1 401.4,373.3 C402.1,373.4 402.9,373.7 403.6,373.8 C404.3,373.8 405.1,373.8 405.8,373.8 C406.5,373.9 407.3,374.0 408.0,374.0 C408.7,373.9 409.5,373.6 410.2,373.5 C410.9,373.5 411.7,373.5 412.4,373.7 C413.1,373.8 413.9,374.1 414.6,374.3 C415.3,374.4 416.1,374.5 416.8,374.6 C417.5,374.6 418.3,374.4 419.0,374.4 C419.7,374.4 420.5,374.6 421.2,374.6 C421.9,374.6 422.7,374.3 423.4,374.4 C424.1,374.4 424.9,374.6 425.6,374.8 C426.3,374.9 427.1,375.2 427.8,375.3 C428.5,375.4 429.3,375.3 430.0,375.4 C430.7,375.4 431.5,375.5 432.2,375.5 C432.9,375.6 433.7,375.8 434.4,375.7 C435.1,375.7 435.9,375.4 436.6,375.4 C437.3,375.3 438.1,375.4 438.8,375.4 C439.5,375.4 440.3,375.4 441.0,375.5 C441.7,375.6 442.5,375.8 443.2,375.8 C443.9,375.9 444.7,376.0 445.4,376.0 C446.1,376.1 446.9,376.3 447.6,376.3 C448.3,376.3 449.1,376.2 449.8,376.2 C450.5,376.2 451.3,376.2 452.0,376.2 C452.7,376.2 453.5,376.4 454.2,376.4 C454.9,376.4 455.7,376.2 456.4,376.2 C457.1,376.2 457.9,376.4 458.6,376.3 C459.3,376.3 460.1,376.0 460.8,376.1 C461.5,376.1 462.3,376.6 463.0,376.6 C463.7,376.7 464.5,376.3 465.2,376.3 C465.9,376.4 466.7,376.8 467.4,376.9 C468.1,377.0 468.9,376.9 469.6,377.0 C470.3,377.0 471.1,377.1 471.8,377.3 C472.5,377.4 473.3,377.5 474.0,377.7 C474.7,377.8 475.5,378.0 476.2,378.3 C476.9,378.5 477.7,378.8 478.4,378.9 C479.1,379.1 479.9,379.1 480.6,379.1 C481.3,379.1 482.1,378.8 482.8,378.8 C483.5,378.8 484.3,378.8 485.0,378.9 C485.7,379.0 486.5,379.2 487.2,379.3 C487.9,379.4 488.7,379.4 489.4,379.5 C490.1,379.5 490.9,379.5 491.6,379.5 C492.3,379.4 493.1,379.4 493.8,379.5 C494.5,379.5 495.3,379.8 496.0,379.8 C496.7,379.8 497.5,379.4 498.2,379.4 C498.9,379.3 499.7,379.5 500.4,379.5 C501.1,379.5 501.9,379.5 502.6,379.5 C503.3,379.6 504.1,379.8 504.8,379.8 C505.5,379.8 506.3,379.5 507.0,379.5 C507.7,379.4 508.5,379.6 509.2,379.5 C509.9,379.5 510.7,379.2 511.4,379.1 C512.1,379.0 512.9,378.9 513.6,378.9 C514.3,378.8 515.1,378.7 515.8,378.8 C516.5,378.9 517.3,379.2 518.0,379.2 C518.7,379.3 519.5,379.1 520.2,379.0 C520.9,378.9 521.7,378.8 522.4,378.7 C523.1,378.6 523.9,378.4 524.6,378.4 C525.3,378.4 526.1,378.6 526.8,378.7 C527.5,378.8 528.3,378.8 529.0,378.8 C529.7,378.7 530.5,378.6 531.2,378.5 C531.9,378.5 532.7,378.3 533.4,378.4 C534.1,378.4 534.9,378.5 535.6,378.6 C536.3,378.7 537.1,378.8 537.8,378.8 C538.5,378.7 539.3,378.4 540.0,378.3 C540.7,378.2 541.5,378.1 542.2,378.1 C542.9,378.1 543.7,378.3 544.4,378.3 C545.1,378.4 545.9,378.4 546.6,378.4 C547.3,378.4 548.1,378.6 548.8,378.6 C549.5,378.5 550.3,378.2 551.0,378.2 C551.7,378.2 552.5,378.6 553.2,378.6 C553.9,378.7 554.7,378.6 555.4,378.6 C556.1,378.5 556.9,378.5 557.6,378.4 C558.3,378.3 559.1,378.1 559.8,378.2 C560.5,378.2 561.3,378.7 562.0,378.7 C562.7,378.7 563.5,378.3 564.2,378.2 C564.9,378.2 565.7,378.6 566.4,378.6 C567.1,378.6 567.9,378.2 568.6,378.2 C569.3,378.1 570.1,378.1 570.8,378.1 C571.5,378.2 572.3,378.5 573.0,378.5 C573.7,378.5 574.5,378.2 575.2,378.2 C575.9,378.2 576.7,378.6 577.4,378.6 C578.1,378.6 578.9,378.4 579.6,378.3 C580.3,378.2 581.1,378.2 581.8,378.2 C582.5,378.1 583.3,378.2 584.0,378.2 C584.7,378.3 585.5,378.3 586.2,378.4 C586.9,378.5 587.7,378.6 588.4,378.6 C589.1,378.7 589.9,378.9 590.6,378.9 C591.3,378.9 592.1,378.4 592.8,378.4 C593.5,378.3 594.3,378.6 595.0,378.6 C595.7,378.6 596.5,378.4 597.2,378.5 C597.9,378.6 598.7,379.1 599.4,379.1 C600.1,379.1 600.9,378.7 601.6,378.5 C602.3,378.4 603.1,378.5 603.8,378.5 C604.5,378.5 605.3,378.5 606.0,378.5 C606.7,378.5 607.5,378.6 608.2,378.7 C608.9,378.8 609.7,379.0 610.4,379.1 C611.1,379.1 611.9,379.1 612.6,379.1 C613.3,379.0 614.2,379.0 614.8,379.0 C615.5,378.9 616.2,378.8 616.5,378.8" stroke="#FF00FF" stroke-width="1.9"/>
</g>
<path d="M67,383.5 H617.5" stroke="#FF00FF" stroke-width="2.2" fill="none"/>
<path d="M63,383.5 H620" stroke="#1F1F1F" stroke-opacity="0.72" stroke-width="1" fill="none"/>
<path d="M67.5,28 V387.5" stroke="#1F1F1F" stroke-opacity="0.74" stroke-width="1" fill="none"/>
<path d="M617.5,28 V387.5" stroke="#1F1F1F" stroke-opacity="0.74" stroke-width="1" fill="none"/>
<path d="M65,31 L70,31 L67.5,26 Z" fill="#801F1F"/>
<path d="M615,31 L620,31 L617.5,26 Z" fill="#801F1F"/>
<path d="M619,381 L619,386 L624,383.5 Z" fill="#801F1F"/>
<text x="98.5" y="21" stroke="#000" stroke-width="0.08" font-family="'DejaVu Sans Mono','Liberation Mono',monospace" font-size="12.5" letter-spacing="0.474" fill="#000" xml:space="preserve">Temperaturverlauf und Fuellstand am: 31.01.2022, Stand 23:45Uhr</text>
<text x="60.6" y="387.1" text-anchor="end" stroke="#000" stroke-width="0.08" font-family="'DejaVu Sans Mono','Liberation Mono',monospace" font-size="9.72" letter-spacing="0.147" fill="#000">0</text>
<text x="654.5" y="387.1" text-anchor="end" stroke="#000" stroke-width="0.08" font-family="'DejaVu Sans Mono','Liberation Mono',monospace" font-size="9.72" letter-spacing="0.147" fill="#000">0</text>
<text x="60.6" y="353.1" text-anchor="end" stroke="#000" stroke-width="0.08" font-family="'DejaVu Sans Mono','Liberation Mono',monospace" font-size="9.72" letter-spacing="0.147" fill="#000">10</text>
<text x="654.5" y="353.1" text-anchor="end" stroke="#000" stroke-width="0.08" font-family="'DejaVu Sans Mono','Liberation Mono',monospace" font-size="9.72" letter-spacing="0.147" fill="#000">10</text>
<text x="60.6" y="319.1" text-anchor="end" stroke="#000" stroke-width="0.08" font-family="'DejaVu Sans Mono','Liberation Mono',monospace" font-size="9.72" letter-spacing="0.147" fill="#000">20</text>
<text x="654.5" y="319.1" text-anchor="end" stroke="#000" stroke-width="0.08" font-family="'DejaVu Sans Mono','Liberation Mono',monospace" font-size="9.72" letter-spacing="0.147" fill="#000">20</text>
<text x="60.6" y="285.1" text-anchor="end" stroke="#000" stroke-width="0.08" font-family="'DejaVu Sans Mono','Liberation Mono',monospace" font-size="9.72" letter-spacing="0.147" fill="#000">30</text>
<text x="654.5" y="285.1" text-anchor="end" stroke="#000" stroke-width="0.08" font-family="'DejaVu Sans Mono','Liberation Mono',monospace" font-size="9.72" letter-spacing="0.147" fill="#000">30</text>
<text x="60.6" y="251.1" text-anchor="end" stroke="#000" stroke-width="0.08" font-family="'DejaVu Sans Mono','Liberation Mono',monospace" font-size="9.72" letter-spacing="0.147" fill="#000">40</text>
<text x="654.5" y="251.1" text-anchor="end" stroke="#000" stroke-width="0.08" font-family="'DejaVu Sans Mono','Liberation Mono',monospace" font-size="9.72" letter-spacing="0.147" fill="#000">40</text>
<text x="60.6" y="217.1" text-anchor="end" stroke="#000" stroke-width="0.08" font-family="'DejaVu Sans Mono','Liberation Mono',monospace" font-size="9.72" letter-spacing="0.147" fill="#000">50</text>
<text x="654.5" y="217.1" text-anchor="end" stroke="#000" stroke-width="0.08" font-family="'DejaVu Sans Mono','Liberation Mono',monospace" font-size="9.72" letter-spacing="0.147" fill="#000">50</text>
<text x="60.6" y="183.1" text-anchor="end" stroke="#000" stroke-width="0.08" font-family="'DejaVu Sans Mono','Liberation Mono',monospace" font-size="9.72" letter-spacing="0.147" fill="#000">60</text>
<text x="654.5" y="183.1" text-anchor="end" stroke="#000" stroke-width="0.08" font-family="'DejaVu Sans Mono','Liberation Mono',monospace" font-size="9.72" letter-spacing="0.147" fill="#000">60</text>
<text x="60.6" y="149.1" text-anchor="end" stroke="#000" stroke-width="0.08" font-family="'DejaVu Sans Mono','Liberation Mono',monospace" font-size="9.72" letter-spacing="0.147" fill="#000">70</text>
<text x="654.5" y="149.1" text-anchor="end" stroke="#000" stroke-width="0.08" font-family="'DejaVu Sans Mono','Liberation Mono',monospace" font-size="9.72" letter-spacing="0.147" fill="#000">70</text>
<text x="60.6" y="115.1" text-anchor="end" stroke="#000" stroke-width="0.08" font-family="'DejaVu Sans Mono','Liberation Mono',monospace" font-size="9.72" letter-spacing="0.147" fill="#000">80</text>
<text x="654.5" y="115.1" text-anchor="end" stroke="#000" stroke-width="0.08" font-family="'DejaVu Sans Mono','Liberation Mono',monospace" font-size="9.72" letter-spacing="0.147" fill="#000">80</text>
<text x="60.6" y="81.1" text-anchor="end" stroke="#000" stroke-width="0.08" font-family="'DejaVu Sans Mono','Liberation Mono',monospace" font-size="9.72" letter-spacing="0.147" fill="#000">90</text>
<text x="654.5" y="81.1" text-anchor="end" stroke="#000" stroke-width="0.08" font-family="'DejaVu Sans Mono','Liberation Mono',monospace" font-size="9.72" letter-spacing="0.147" fill="#000">90</text>
<text x="60.6" y="47.1" text-anchor="end" stroke="#000" stroke-width="0.08" font-family="'DejaVu Sans Mono','Liberation Mono',monospace" font-size="9.72" letter-spacing="0.147" fill="#000">100</text>
<text x="654.5" y="47.1" text-anchor="end" stroke="#000" stroke-width="0.08" font-family="'DejaVu Sans Mono','Liberation Mono',monospace" font-size="9.72" letter-spacing="0.147" fill="#000">100</text>
<text x="72.3" y="397.6" text-anchor="middle" stroke="#000" stroke-width="0.08" font-family="'DejaVu Sans Mono','Liberation Mono',monospace" font-size="9.72" letter-spacing="0.24" fill="#000" xml:space="preserve">Mon 00:00</text>
<text x="210.3" y="397.6" text-anchor="middle" stroke="#000" stroke-width="0.08" font-family="'DejaVu Sans Mono','Liberation Mono',monospace" font-size="9.72" letter-spacing="0.24" fill="#000" xml:space="preserve">Mon 06:00</text>
<text x="347.3" y="397.6" text-anchor="middle" stroke="#000" stroke-width="0.08" font-family="'DejaVu Sans Mono','Liberation Mono',monospace" font-size="9.72" letter-spacing="0.24" fill="#000" xml:space="preserve">Mon 12:00</text>
<text x="485.3" y="397.6" text-anchor="middle" stroke="#000" stroke-width="0.08" font-family="'DejaVu Sans Mono','Liberation Mono',monospace" font-size="9.72" letter-spacing="0.24" fill="#000" xml:space="preserve">Mon 18:00</text>
<text transform="translate(18,208) rotate(-90)" text-anchor="middle" stroke="#000" stroke-width="0.08" font-family="'DejaVu Sans Mono','Liberation Mono',monospace" font-size="11.11" fill="#000">C</text>
<text transform="translate(685.6,6) rotate(90)" stroke="none" font-family="'DejaVu Sans Mono','Liberation Mono',monospace" font-size="7.64" letter-spacing="0.4" fill="#000" fill-opacity="0.38" xml:space="preserve">RRDTOOL / TOBI OETIKER</text>
<rect x="16.5" y="407.5" width="8" height="8" fill="#FF0000" stroke="#000" stroke-width="1"/>
<text x="30.0" y="415.0" stroke="#000" stroke-width="0.08" font-family="'DejaVu Sans Mono','Liberation Mono',monospace" font-size="11.11" letter-spacing="0.311" fill="#000" xml:space="preserve">VL Kessel</text>
<rect x="114.5" y="407.5" width="8" height="8" fill="#000080" stroke="#000" stroke-width="1"/>
<text x="128.0" y="415.0" stroke="#000" stroke-width="0.08" font-family="'DejaVu Sans Mono','Liberation Mono',monospace" font-size="11.11" letter-spacing="0.311" fill="#000" xml:space="preserve">RL Kessel</text>
<rect x="219.5" y="407.5" width="8" height="8" fill="#FF80A8" stroke="#000" stroke-width="1"/>
<text x="233.0" y="415.0" stroke="#000" stroke-width="0.08" font-family="'DejaVu Sans Mono','Liberation Mono',monospace" font-size="11.11" letter-spacing="0.311" fill="#000" xml:space="preserve">VL Heizung</text>
<rect x="338.5" y="407.5" width="8" height="8" fill="#0000FF" stroke="#000" stroke-width="1"/>
<text x="352.0" y="415.0" stroke="#000" stroke-width="0.08" font-family="'DejaVu Sans Mono','Liberation Mono',monospace" font-size="11.11" letter-spacing="0.311" fill="#000" xml:space="preserve">RL Heizung</text>
<rect x="471.5" y="407.5" width="8" height="8" fill="#AA0000" stroke="#000" stroke-width="1"/>
<text x="485.0" y="415.0" stroke="#000" stroke-width="0.08" font-family="'DejaVu Sans Mono','Liberation Mono',monospace" font-size="11.11" letter-spacing="0.311" fill="#000" xml:space="preserve">Puffer Oben</text>
<rect x="583.5" y="407.5" width="8" height="8" fill="#880088" stroke="#000" stroke-width="1"/>
<text x="597.0" y="415.0" stroke="#000" stroke-width="0.08" font-family="'DejaVu Sans Mono','Liberation Mono',monospace" font-size="11.11" letter-spacing="0.311" fill="#000" xml:space="preserve">Puffer Mitte</text>
<rect x="16.5" y="421.5" width="8" height="8" fill="#FF00FF" stroke="#000" stroke-width="1"/>
<text x="30.0" y="429.0" stroke="#000" stroke-width="0.08" font-family="'DejaVu Sans Mono','Liberation Mono',monospace" font-size="11.11" letter-spacing="0.311" fill="#000" xml:space="preserve">Luftfeuchte</text>
<rect x="124.5" y="421.5" width="8" height="8" fill="#0000FF" stroke="#000" stroke-width="1"/>
<text x="138.3" y="429.0" stroke="#000" stroke-width="0.08" font-family="'DejaVu Sans Mono','Liberation Mono',monospace" font-size="11.11" letter-spacing="0.311" fill="#000" xml:space="preserve">AT&gt;5C, FS AUS</text>
<rect x="246.5" y="421.5" width="8" height="8" fill="#FF00FF" stroke="#000" stroke-width="1"/>
<text x="260.2" y="429.0" stroke="#000" stroke-width="0.08" font-family="'DejaVu Sans Mono','Liberation Mono',monospace" font-size="11.11" letter-spacing="0.311" fill="#000" xml:space="preserve">AT&lt;2C, FS EIN</text>
<rect x="368.5" y="421.5" width="8" height="8" fill="#888888" stroke="#000" stroke-width="1"/>
<text x="382.2" y="429.0" stroke="#000" stroke-width="0.08" font-family="'DejaVu Sans Mono','Liberation Mono',monospace" font-size="11.11" letter-spacing="0.311" fill="#000" xml:space="preserve">Kessel-P AUS</text>
<rect x="483.5" y="421.5" width="8" height="8" fill="#CCCC00" stroke="#000" stroke-width="1"/>
<text x="497.5" y="429.0" stroke="#000" stroke-width="0.08" font-family="'DejaVu Sans Mono','Liberation Mono',monospace" font-size="11.11" letter-spacing="0.311" fill="#000" xml:space="preserve">Kessel-P EIN</text>
<rect x="598.5" y="421.5" width="8" height="8" fill="#FF0000" stroke="#000" stroke-width="1"/>
<text x="612.6" y="429.0" stroke="#000" stroke-width="0.08" font-family="'DejaVu Sans Mono','Liberation Mono',monospace" font-size="11.11" letter-spacing="0.311" fill="#000" xml:space="preserve">Heiz-P AUS</text>
<rect x="16.5" y="435.5" width="8" height="8" fill="#00FF00" stroke="#000" stroke-width="1"/>
<text x="30.0" y="443.0" stroke="#000" stroke-width="0.08" font-family="'DejaVu Sans Mono','Liberation Mono',monospace" font-size="11.11" letter-spacing="0.311" fill="#000" xml:space="preserve">Heiz-P EIN</text>
<text x="120.2" y="443.0" stroke="#000" stroke-width="0.08" font-family="'DejaVu Sans Mono','Liberation Mono',monospace" font-size="11.11" letter-spacing="0.311" fill="#000" xml:space="preserve">akt.rH: 0.00</text>
<text x="224.1" y="443.0" stroke="#000" stroke-width="0.08" font-family="'DejaVu Sans Mono','Liberation Mono',monospace" font-size="11.11" letter-spacing="0.311" fill="#000" xml:space="preserve">akt.AT: 1.25 C</text>
<text x="342.2" y="443.0" stroke="#000" stroke-width="0.08" font-family="'DejaVu Sans Mono','Liberation Mono',monospace" font-size="11.11" letter-spacing="0.311" fill="#000" xml:space="preserve">min/maxAT24h: 0.94</text>
<text x="472.0" y="443.0" stroke="#000" stroke-width="0.08" font-family="'DejaVu Sans Mono','Liberation Mono',monospace" font-size="11.11" letter-spacing="0.311" fill="#000" xml:space="preserve">/ 3.75</text>
<text x="534.0" y="443.0" stroke="#000" stroke-width="0.08" font-family="'DejaVu Sans Mono','Liberation Mono',monospace" font-size="11.11" letter-spacing="0.311" fill="#000" xml:space="preserve">akt.Fuellstand:</text>
<text x="659.3" y="443.0" stroke="#000" stroke-width="0.08" font-family="'DejaVu Sans Mono','Liberation Mono',monospace" font-size="11.11" letter-spacing="0.311" fill="#000" xml:space="preserve">42</text>
<text x="16.0" y="457.0" stroke="#000" stroke-width="0.08" font-family="'DejaVu Sans Mono','Liberation Mono',monospace" font-size="11.11" letter-spacing="0.311" fill="#000" xml:space="preserve">Aquarium: -nan C</text>
<text x="144.6" y="457.0" stroke="#000" stroke-width="0.08" font-family="'DejaVu Sans Mono','Liberation Mono',monospace" font-size="11.11" letter-spacing="0.311" fill="#000" xml:space="preserve">min/max: -nan/ -nan</text>
</svg>
</body></html>
